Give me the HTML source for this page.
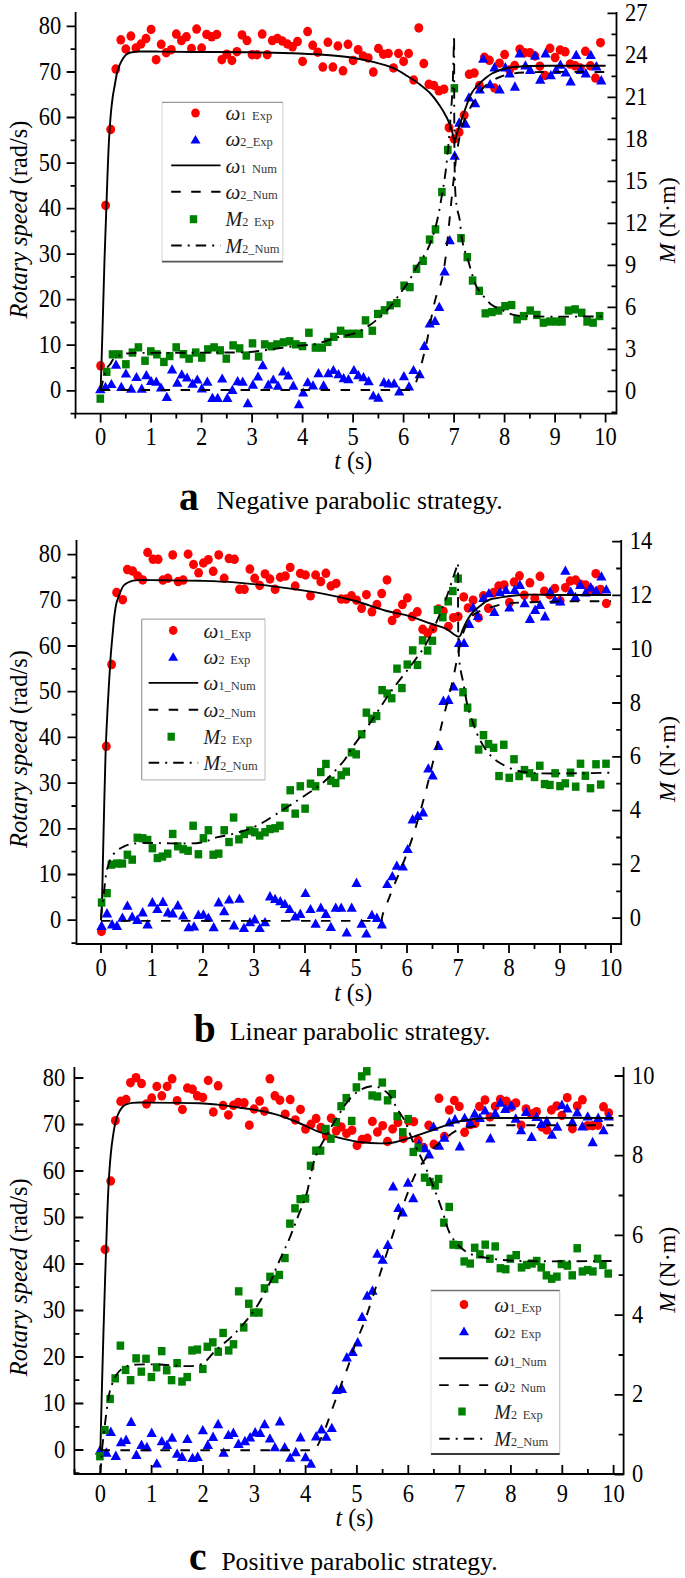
<!DOCTYPE html>
<html><head><meta charset="utf-8"><title>Figure</title>
<style>
html,body{margin:0;padding:0;background:#fff;width:685px;height:1578px;overflow:hidden;}
svg{display:block;}
text{font-family:"Liberation Serif",serif;fill:#000;}
</style></head><body>
<svg width="685" height="1578" viewBox="0 0 685 1578">
<rect width="685" height="1578" fill="#fff"/>
<g fill="#ff0000"><ellipse cx="100.6" cy="365.8" rx="4.45" ry="4.75"/><ellipse cx="105.6" cy="205.4" rx="4.45" ry="4.75"/><ellipse cx="110.7" cy="129.4" rx="4.45" ry="4.75"/><ellipse cx="115.8" cy="69.1" rx="4.45" ry="4.75"/><ellipse cx="120.8" cy="39.8" rx="4.45" ry="4.75"/><ellipse cx="125.8" cy="49" rx="4.45" ry="4.75"/><ellipse cx="130.9" cy="36.1" rx="4.45" ry="4.75"/><ellipse cx="135.9" cy="48" rx="4.45" ry="4.75"/><ellipse cx="141" cy="44" rx="4.45" ry="4.75"/><ellipse cx="146" cy="38.6" rx="4.45" ry="4.75"/><ellipse cx="151.1" cy="29.4" rx="4.45" ry="4.75"/><ellipse cx="156.1" cy="59.7" rx="4.45" ry="4.75"/><ellipse cx="161.2" cy="44.3" rx="4.45" ry="4.75"/><ellipse cx="166.2" cy="52.7" rx="4.45" ry="4.75"/><ellipse cx="171.3" cy="49.7" rx="4.45" ry="4.75"/><ellipse cx="176.3" cy="34.1" rx="4.45" ry="4.75"/><ellipse cx="181.4" cy="40.6" rx="4.45" ry="4.75"/><ellipse cx="186.4" cy="36.8" rx="4.45" ry="4.75"/><ellipse cx="191.5" cy="48.5" rx="4.45" ry="4.75"/><ellipse cx="196.6" cy="29.1" rx="4.45" ry="4.75"/><ellipse cx="201.6" cy="48" rx="4.45" ry="4.75"/><ellipse cx="206.6" cy="34.4" rx="4.45" ry="4.75"/><ellipse cx="211.7" cy="36.8" rx="4.45" ry="4.75"/><ellipse cx="216.8" cy="34.4" rx="4.45" ry="4.75"/><ellipse cx="221.8" cy="59.7" rx="4.45" ry="4.75"/><ellipse cx="226.8" cy="54.2" rx="4.45" ry="4.75"/><ellipse cx="231.9" cy="60.4" rx="4.45" ry="4.75"/><ellipse cx="236.9" cy="51.7" rx="4.45" ry="4.75"/><ellipse cx="242" cy="34.9" rx="4.45" ry="4.75"/><ellipse cx="247" cy="40.6" rx="4.45" ry="4.75"/><ellipse cx="252.1" cy="54.7" rx="4.45" ry="4.75"/><ellipse cx="257.1" cy="54.7" rx="4.45" ry="4.75"/><ellipse cx="262.2" cy="34.1" rx="4.45" ry="4.75"/><ellipse cx="267.2" cy="54.7" rx="4.45" ry="4.75"/><ellipse cx="272.3" cy="40.6" rx="4.45" ry="4.75"/><ellipse cx="277.4" cy="38.6" rx="4.45" ry="4.75"/><ellipse cx="282.4" cy="41.1" rx="4.45" ry="4.75"/><ellipse cx="287.4" cy="44" rx="4.45" ry="4.75"/><ellipse cx="292.5" cy="46.8" rx="4.45" ry="4.75"/><ellipse cx="297.5" cy="41.6" rx="4.45" ry="4.75"/><ellipse cx="302.6" cy="61.4" rx="4.45" ry="4.75"/><ellipse cx="307.6" cy="31.6" rx="4.45" ry="4.75"/><ellipse cx="312.7" cy="45.3" rx="4.45" ry="4.75"/><ellipse cx="317.8" cy="52.2" rx="4.45" ry="4.75"/><ellipse cx="322.8" cy="67.1" rx="4.45" ry="4.75"/><ellipse cx="327.9" cy="42.3" rx="4.45" ry="4.75"/><ellipse cx="332.9" cy="67.1" rx="4.45" ry="4.75"/><ellipse cx="337.9" cy="46" rx="4.45" ry="4.75"/><ellipse cx="343" cy="70.8" rx="4.45" ry="4.75"/><ellipse cx="348" cy="44.3" rx="4.45" ry="4.75"/><ellipse cx="353.1" cy="60.4" rx="4.45" ry="4.75"/><ellipse cx="358.1" cy="49.7" rx="4.45" ry="4.75"/><ellipse cx="363.2" cy="56" rx="4.45" ry="4.75"/><ellipse cx="368.2" cy="57.9" rx="4.45" ry="4.75"/><ellipse cx="373.3" cy="72.1" rx="4.45" ry="4.75"/><ellipse cx="378.4" cy="48.5" rx="4.45" ry="4.75"/><ellipse cx="383.4" cy="54.2" rx="4.45" ry="4.75"/><ellipse cx="388.4" cy="53.5" rx="4.45" ry="4.75"/><ellipse cx="393.5" cy="67.9" rx="4.45" ry="4.75"/><ellipse cx="398.5" cy="53.5" rx="4.45" ry="4.75"/><ellipse cx="403.6" cy="61.4" rx="4.45" ry="4.75"/><ellipse cx="408.6" cy="53.5" rx="4.45" ry="4.75"/><ellipse cx="413.7" cy="80" rx="4.45" ry="4.75"/><ellipse cx="418.8" cy="27.9" rx="4.45" ry="4.75"/><ellipse cx="423.8" cy="63.6" rx="4.45" ry="4.75"/><ellipse cx="428.9" cy="84.3" rx="4.45" ry="4.75"/><ellipse cx="433.9" cy="85.5" rx="4.45" ry="4.75"/><ellipse cx="438.9" cy="90.8" rx="4.45" ry="4.75"/><ellipse cx="444" cy="89.2" rx="4.45" ry="4.75"/><ellipse cx="449" cy="127.7" rx="4.45" ry="4.75"/><ellipse cx="454.1" cy="139" rx="4.45" ry="4.75"/><ellipse cx="459.1" cy="132.2" rx="4.45" ry="4.75"/><ellipse cx="464.2" cy="115.2" rx="4.45" ry="4.75"/><ellipse cx="469.2" cy="74.3" rx="4.45" ry="4.75"/><ellipse cx="474.3" cy="73.1" rx="4.45" ry="4.75"/><ellipse cx="479.4" cy="85.6" rx="4.45" ry="4.75"/><ellipse cx="484.4" cy="57.3" rx="4.45" ry="4.75"/><ellipse cx="489.4" cy="60.3" rx="4.45" ry="4.75"/><ellipse cx="494.5" cy="88" rx="4.45" ry="4.75"/><ellipse cx="499.5" cy="63.2" rx="4.45" ry="4.75"/><ellipse cx="504.6" cy="54.6" rx="4.45" ry="4.75"/><ellipse cx="509.6" cy="70" rx="4.45" ry="4.75"/><ellipse cx="514.7" cy="65.6" rx="4.45" ry="4.75"/><ellipse cx="519.8" cy="49.2" rx="4.45" ry="4.75"/><ellipse cx="524.8" cy="52.7" rx="4.45" ry="4.75"/><ellipse cx="529.9" cy="52.7" rx="4.45" ry="4.75"/><ellipse cx="534.9" cy="56" rx="4.45" ry="4.75"/><ellipse cx="539.9" cy="66.2" rx="4.45" ry="4.75"/><ellipse cx="545" cy="75.4" rx="4.45" ry="4.75"/><ellipse cx="550" cy="48.3" rx="4.45" ry="4.75"/><ellipse cx="555.1" cy="57.6" rx="4.45" ry="4.75"/><ellipse cx="560.1" cy="50" rx="4.45" ry="4.75"/><ellipse cx="565.2" cy="51.8" rx="4.45" ry="4.75"/><ellipse cx="570.2" cy="64.1" rx="4.45" ry="4.75"/><ellipse cx="575.3" cy="65.8" rx="4.45" ry="4.75"/><ellipse cx="580.4" cy="68" rx="4.45" ry="4.75"/><ellipse cx="585.4" cy="51.3" rx="4.45" ry="4.75"/><ellipse cx="590.4" cy="65.8" rx="4.45" ry="4.75"/><ellipse cx="595.5" cy="78.1" rx="4.45" ry="4.75"/><ellipse cx="600.5" cy="42.7" rx="4.45" ry="4.75"/></g>
<g fill="#0000ff"><path d="M100.3 384.1L105.5 393.3L95.1 393.3Z"/><path d="M105.5 381.8L110.7 391L100.3 391Z"/><path d="M111.4 378.9L116.6 388.1L106.2 388.1Z"/><path d="M116 359.6L121.2 368.8L110.8 368.8Z"/><path d="M121.3 381.8L126.5 391L116.1 391Z"/><path d="M125.9 368.4L131.1 377.6L120.8 377.6Z"/><path d="M131.2 383.5L136.3 392.8L126 392.8Z"/><path d="M136.5 371.9L141.7 381.1L131.3 381.1Z"/><path d="M141.7 383.5L146.8 392.8L136.5 392.8Z"/><path d="M146.4 370.1L151.6 379.3L141.2 379.3Z"/><path d="M151.1 375.9L156.2 385.1L145.9 385.1Z"/><path d="M156.3 376.5L161.5 385.8L151.2 385.8Z"/><path d="M161 382.4L166.2 391.6L155.8 391.6Z"/><path d="M166.8 391.7L172 400.9L161.7 400.9Z"/><path d="M172.1 364.2L177.2 373.5L166.9 373.5Z"/><path d="M177.3 377.5L182.5 386.8L172.2 386.8Z"/><path d="M181.8 369.2L187 378.5L176.7 378.5Z"/><path d="M187.1 372.4L192.2 381.6L181.9 381.6Z"/><path d="M192.6 378.5L197.8 387.8L187.4 387.8Z"/><path d="M197.3 374.4L202.5 383.6L192.2 383.6Z"/><path d="M201.8 383.2L207 392.4L196.7 392.4Z"/><path d="M207.3 376.5L212.5 385.8L202.2 385.8Z"/><path d="M212.4 392.8L217.6 402L207.2 402Z"/><path d="M217.7 392.8L222.8 402L212.5 402Z"/><path d="M222.2 373.4L227.3 382.6L217 382.6Z"/><path d="M227.3 392.8L232.5 402L222.2 402Z"/><path d="M232.4 384.7L237.6 393.9L227.2 393.9Z"/><path d="M237.6 376.1L242.8 385.3L232.4 385.3Z"/><path d="M242.7 376.5L247.8 385.8L237.5 385.8Z"/><path d="M247.8 398L253 407.2L242.7 407.2Z"/><path d="M252.9 379.6L258.1 388.8L247.8 388.8Z"/><path d="M258 371.4L263.1 380.6L252.8 380.6Z"/><path d="M262.7 360.1L267.8 369.3L257.6 369.3Z"/><path d="M268.2 379.6L273.3 388.8L263.1 388.8Z"/><path d="M273.3 374.4L278.4 383.6L268.2 383.6Z"/><path d="M278 380.6L283.1 389.8L272.9 389.8Z"/><path d="M283.1 366.2L288.2 375.5L278 375.5Z"/><path d="M288.2 370.4L293.3 379.6L283.1 379.6Z"/><path d="M293.3 380.6L298.4 389.8L288.2 389.8Z"/><path d="M298.9 399L304 408.2L293.8 408.2Z"/><path d="M303.2 387.4L308.3 396.6L298.1 396.6Z"/><path d="M307.7 377.1L312.8 386.3L302.6 386.3Z"/><path d="M313 380.2L318.1 389.4L307.9 389.4Z"/><path d="M318.5 368L323.6 377.2L313.4 377.2Z"/><path d="M323.6 380.2L328.8 389.4L318.5 389.4Z"/><path d="M328.3 368L333.4 377.2L323.2 377.2Z"/><path d="M333.4 364.9L338.5 374.1L328.2 374.1Z"/><path d="M338.5 369L343.6 378.2L333.4 378.2Z"/><path d="M343.6 373.1L348.8 382.3L338.5 382.3Z"/><path d="M348.5 374.1L353.6 383.3L343.4 383.3Z"/><path d="M353.9 364.9L359 374.1L348.8 374.1Z"/><path d="M358.4 370L363.5 379.2L353.2 379.2Z"/><path d="M363.5 372L368.6 381.2L358.4 381.2Z"/><path d="M368.6 376.1L373.8 385.3L363.5 385.3Z"/><path d="M373.3 390.4L378.4 399.6L368.2 399.6Z"/><path d="M378.4 392.5L383.5 401.8L373.2 401.8Z"/><path d="M383.9 377.1L389 386.3L378.8 386.3Z"/><path d="M388.6 378.2L393.8 387.4L383.5 387.4Z"/><path d="M394.1 378.2L399.2 387.4L389 387.4Z"/><path d="M399.2 386.2L404.3 395.5L394.1 395.5Z"/><path d="M403.9 371L409 380.2L398.8 380.2Z"/><path d="M409 381.2L414.1 390.4L403.9 390.4Z"/><path d="M413.5 364.9L418.6 374.1L408.4 374.1Z"/><path d="M419.7 369L424.8 378.2L414.6 378.2Z"/><path d="M424.4 340.8L429.5 350L419.2 350Z"/><path d="M429.7 318.4L434.8 327.6L424.6 327.6Z"/><path d="M435 315.8L440.1 325L429.9 325Z"/><path d="M439.3 301.8L444.4 311L434.2 311Z"/><path d="M444.6 266.2L449.8 275.5L439.5 275.5Z"/><path d="M449.8 234.9L454.9 244.2L444.7 244.2Z"/><path d="M454.7 150.3L459.8 159.7L449.6 159.7Z"/><path d="M459.2 117.3L464.3 126.7L454.1 126.7Z"/><path d="M465.5 118.4L470.6 127.8L460.4 127.8Z"/><path d="M468.9 92.2L474 101.6L463.8 101.6Z"/><path d="M475.2 97.9L480.3 107.2L470.1 107.2Z"/><path d="M479.8 84.2L484.9 93.6L474.7 93.6Z"/><path d="M483.2 53.5L488.3 62.8L478.1 62.8Z"/><path d="M490.1 78.9L495.2 88.2L485 88.2Z"/><path d="M494.5 62.1L499.6 71.5L489.4 71.5Z"/><path d="M499.6 84L504.8 93.4L494.5 93.4Z"/><path d="M505.3 62.1L510.4 71.4L500.2 71.4Z"/><path d="M509.6 68.1L514.8 77.5L504.5 77.5Z"/><path d="M514.9 81.3L520 90.7L509.8 90.7Z"/><path d="M519.6 48.1L524.8 57.4L514.5 57.4Z"/><path d="M525.4 60.3L530.5 69.6L520.2 69.6Z"/><path d="M530.1 64.6L535.2 74L525 74Z"/><path d="M535 50.4L540.1 59.6L529.9 59.6Z"/><path d="M540.3 74.3L545.4 83.7L535.1 83.7Z"/><path d="M545.5 48.1L550.6 57.4L540.4 57.4Z"/><path d="M550.8 69.9L555.9 79.2L545.6 79.2Z"/><path d="M556.1 64.6L561.2 74L551 74Z"/><path d="M560.4 59.4L565.5 68.8L555.2 68.8Z"/><path d="M565.7 67.2L570.9 76.6L560.6 76.6Z"/><path d="M570.6 76L575.8 85.4L565.5 85.4Z"/><path d="M576.2 49.8L581.4 59L571.1 59Z"/><path d="M580.6 64.6L585.8 74L575.5 74Z"/><path d="M585.8 68.1L590.9 77.5L580.6 77.5Z"/><path d="M590.8 49.8L595.9 59L585.6 59Z"/><path d="M596.4 61.1L601.5 70.5L591.2 70.5Z"/><path d="M601.3 75.1L606.4 84.5L596.1 84.5Z"/></g>
<path d="M100.6 390.8 C100.9 380.7 101.9 351 102.5 330 C103.2 307.5 103.8 280.4 104.5 260 C105 244.2 105.5 232.1 106 218 C106.5 203.8 107 188.6 107.5 175 C108 162.7 108.4 151 109 140 C109.6 130.1 110.2 120.2 111 112 C111.6 105.6 112.3 99.9 113 95 C113.6 91.2 114.2 88.5 114.8 85 C115.5 81.2 116.1 76.6 117 73 C117.8 69.9 118.7 67.1 119.8 64.6 C120.8 62.4 121.9 60.2 123 58.5 C124 57 124.9 55.6 126 54.7 C126.9 53.9 128 53.4 129 53 C130 52.6 130.9 52.4 132.2 52.2 C134.1 51.9 136.5 51.6 139.6 51.5 C144.7 51.3 152.1 51.5 160 51.6 C171.1 51.7 185.9 51.9 200 52 C215.7 52.1 233.4 52 250 52.3 C266.6 52.6 283.1 52.7 299.6 53.5 C316.2 54.3 335.6 55.3 349.3 57.2 C359 58.5 366.3 60.2 374.1 62.2 C381.1 64 388 65.8 394 68.4 C399.4 70.8 404.3 74.2 408.8 77 C412.8 79.5 416.4 81.8 420 84.5 C423.5 87.2 426.8 89.7 430 93 C433.5 96.7 437.1 101.7 440 106 C442.7 110 445.2 114.4 447 118 C448.4 120.7 449.2 122.9 450.1 125.4 C451 127.9 451.8 130.3 452.5 133 C453.3 136 453.7 142.5 454.4 142.5 C455 142.5 455.7 137.5 456.5 135 C457.3 132.4 458.1 129.9 459 127 C460.1 123.7 461.4 119.9 462.6 116.3 C463.9 112.7 465.2 109.1 466.5 105.5 C467.8 102 468.9 98.2 470.6 95 C472.1 92.1 473.8 89.6 476 87 C478.5 84.1 482.1 80.9 485 78.5 C487.4 76.5 489.5 74.9 492 73.5 C494.5 72.1 497.1 71 500 70 C503.1 68.9 506.1 68.1 510 67.5 C515.5 66.6 522.7 66.3 530 66 C539 65.6 549 65.8 560 65.8 C573.6 65.8 598 65.8 605.6 65.8" fill="none" stroke="#000" stroke-width="1.9" stroke-linejoin="round"/>
<path d="M100.6 390 L411.5 390 C412 389.3 413.6 387.7 414.5 386 C415.7 383.8 416.7 380.4 417.6 377.7 C418.5 375.1 419.2 372.8 420 370 C420.9 366.7 421.8 362.9 422.7 359.3 C423.6 355.6 424.6 351.8 425.5 348 C426.3 344.3 427 340.8 427.8 336.8 C428.7 332.2 429.6 326.7 430.5 322 C431.3 317.8 432.1 314.1 433 310 C433.9 305.7 434.7 301.3 436 297 C437.3 292.8 439.2 289.3 440.6 284.5 C442.4 278.1 443.8 269.7 445 261.8 C446.3 253.3 447.1 243.8 448 235 C448.9 226.5 449.7 217.9 450.5 210 C451.2 203 451.8 196.5 452.5 190 C453.2 183.8 453.8 177.9 454.5 172 C455.2 166.3 455.7 160.6 456.5 155 C457.3 149.6 458.1 144.2 459.2 139 C460.3 133.9 461.3 128.9 463 124 C464.7 119 467 114.3 469.5 109.4 C472.2 104.1 475 98.1 478.6 93.4 C481.9 89 486.1 84.8 490 82 C493.3 79.7 496.6 78.3 500 77 C503.3 75.7 506.3 74.7 510 74 C514.5 73.1 519.6 72.8 525 72.5 C531.2 72.1 536.5 72.1 545 72 C559.7 71.8 595.5 72 605.6 72" fill="none" stroke="#000" stroke-width="1.9" stroke-dasharray="9.5 10.5"/>
<g fill="#008000"><rect x="96.5" y="394.5" width="7.6" height="8.3"/><rect x="102.9" y="367.7" width="7.6" height="8.3"/><rect x="108.7" y="350.2" width="7.6" height="8.3"/><rect x="115.1" y="350.2" width="7.6" height="8.3"/><rect x="122.1" y="360.1" width="7.6" height="8.3"/><rect x="128.6" y="348.4" width="7.6" height="8.3"/><rect x="134.6" y="343.2" width="7.6" height="8.3"/><rect x="141.2" y="356.6" width="7.6" height="8.3"/><rect x="147" y="347.2" width="7.6" height="8.3"/><rect x="153.1" y="350.2" width="7.6" height="8.3"/><rect x="160.1" y="357.8" width="7.6" height="8.3"/><rect x="165.9" y="351.9" width="7.6" height="8.3"/><rect x="172.4" y="343.2" width="7.6" height="8.3"/><rect x="179.6" y="350" width="7.6" height="8.3"/><rect x="185.3" y="354.5" width="7.6" height="8.3"/><rect x="191.9" y="348.4" width="7.6" height="8.3"/><rect x="198" y="353.5" width="7.6" height="8.3"/><rect x="204.1" y="345.2" width="7.6" height="8.3"/><rect x="210.3" y="343.2" width="7.6" height="8.3"/><rect x="216.4" y="346.2" width="7.6" height="8.3"/><rect x="222.5" y="354.5" width="7.6" height="8.3"/><rect x="229.3" y="341.2" width="7.6" height="8.3"/><rect x="235.8" y="344.2" width="7.6" height="8.3"/><rect x="242.5" y="351.4" width="7.6" height="8.3"/><rect x="248.7" y="339.2" width="7.6" height="8.3"/><rect x="254.8" y="352.5" width="7.6" height="8.3"/><rect x="260.9" y="340.2" width="7.6" height="8.3"/><rect x="267.5" y="342.2" width="7.6" height="8.3"/><rect x="273.2" y="340.2" width="7.6" height="8.3"/><rect x="279.7" y="338.2" width="7.6" height="8.3"/><rect x="285.9" y="337.1" width="7.6" height="8.3"/><rect x="292" y="340.2" width="7.6" height="8.3"/><rect x="298.7" y="342" width="7.6" height="8.3"/><rect x="305.1" y="328.6" width="7.6" height="8.3"/><rect x="311.6" y="343.5" width="7.6" height="8.3"/><rect x="318.4" y="343.5" width="7.6" height="8.3"/><rect x="323.9" y="337.8" width="7.6" height="8.3"/><rect x="330" y="332.7" width="7.6" height="8.3"/><rect x="336.8" y="326.6" width="7.6" height="8.3"/><rect x="343.3" y="329.6" width="7.6" height="8.3"/><rect x="349.4" y="329.6" width="7.6" height="8.3"/><rect x="355.6" y="329.6" width="7.6" height="8.3"/><rect x="361.7" y="316.2" width="7.6" height="8.3"/><rect x="368.5" y="326.6" width="7.6" height="8.3"/><rect x="374" y="309.8" width="7.6" height="8.3"/><rect x="380.7" y="306.1" width="7.6" height="8.3"/><rect x="386.4" y="301.2" width="7.6" height="8.3"/><rect x="393" y="299" width="7.6" height="8.3"/><rect x="400.3" y="281.5" width="7.6" height="8.3"/><rect x="406.1" y="283" width="7.6" height="8.3"/><rect x="412.7" y="264.7" width="7.6" height="8.3"/><rect x="419.3" y="256.7" width="7.6" height="8.3"/><rect x="425.8" y="235.4" width="7.6" height="8.3"/><rect x="431.7" y="225.2" width="7.6" height="8.3"/><rect x="438.1" y="187.9" width="7.6" height="8.3"/><rect x="444" y="145.8" width="7.6" height="8.3"/><rect x="450.6" y="84.1" width="7.6" height="8.3"/><rect x="457.2" y="234" width="7.6" height="8.3"/><rect x="463.5" y="253" width="7.6" height="8.3"/><rect x="468.8" y="276.4" width="7.6" height="8.3"/><rect x="475.4" y="286.7" width="7.6" height="8.3"/><rect x="481.5" y="309.2" width="7.6" height="8.3"/><rect x="488.1" y="307.9" width="7.6" height="8.3"/><rect x="494.7" y="306.4" width="7.6" height="8.3"/><rect x="501.2" y="302" width="7.6" height="8.3"/><rect x="507.8" y="300.9" width="7.6" height="8.3"/><rect x="513.3" y="315.2" width="7.6" height="8.3"/><rect x="519.8" y="311.9" width="7.6" height="8.3"/><rect x="526.4" y="306.4" width="7.6" height="8.3"/><rect x="533" y="310.8" width="7.6" height="8.3"/><rect x="539.6" y="318.5" width="7.6" height="8.3"/><rect x="546.1" y="317.4" width="7.6" height="8.3"/><rect x="552.7" y="317.4" width="7.6" height="8.3"/><rect x="558.2" y="317.4" width="7.6" height="8.3"/><rect x="564.7" y="306.4" width="7.6" height="8.3"/><rect x="571.3" y="305.2" width="7.6" height="8.3"/><rect x="577.9" y="308.6" width="7.6" height="8.3"/><rect x="583.3" y="317.4" width="7.6" height="8.3"/><rect x="589.3" y="318.5" width="7.6" height="8.3"/><rect x="595.8" y="311.9" width="7.6" height="8.3"/></g>
<path d="M100.6 391 C100.8 390 101.5 387.1 102 385 C102.6 382.5 103.1 379.6 103.8 377 C104.5 374.6 105.2 371.9 106 370 C106.6 368.6 107.2 367.5 108 366.5 C108.7 365.6 109.5 365.1 110.2 364.2 C111.2 362.9 111.8 360.8 113.1 359.5 C114.5 358.1 116.4 356.9 118.4 356 C120.5 355 122.8 354.2 125.4 353.7 C128.3 353.1 130.7 353.2 135 353 C143.8 352.7 161.3 352.9 175 352.8 C189.6 352.7 206.5 352.7 220 352.5 C231 352.4 241 352.6 250 352 C257.4 351.5 263 350.4 270 349.5 C277.9 348.5 287.1 346.9 295 346 C302.1 345.2 308.7 345.3 315.4 344 C322.3 342.6 329.1 339.7 335.9 337.8 C342.7 335.9 350.3 335.1 356.3 332.7 C361.7 330.5 366.1 327.6 370.6 324.5 C375 321.5 379.4 317.5 382.9 314.3 C385.7 311.7 387.6 309.8 390 307 C392.9 303.6 395.9 299.3 399 295.1 C402.3 290.5 406 285.6 409.2 280.5 C412.4 275.4 415 269.5 418 264.5 C420.8 259.8 424.2 256.3 426.7 251.3 C429.6 245.7 432 238.6 434 232.3 C435.9 226.4 437.2 220.5 438.4 214.8 C439.6 209.4 440.4 204.1 441.3 198.8 C442.2 193.5 443.2 188.2 444 183 C444.8 177.8 445.4 173.5 446.1 167.6 C447.1 159.5 448.5 143.8 449 139 L452.6 90 L454.1 35.8 C454.3 61.8 453.9 166.8 455.3 192 C455.8 200.1 456.2 203.2 457 208 C457.7 212.1 458.9 215 459.6 219.2 C460.5 224.7 460.8 232.6 461.8 238.2 C462.6 242.6 463.4 246.4 464.5 250 C465.4 253.1 466.5 255.3 467.6 258.6 C469 263 470.5 269.2 472 274 C473.4 278.4 474.7 283 476.4 286.4 C477.8 289.1 479.4 290.9 481 293 C482.6 295.1 484.2 297 486 299 C487.8 301 489.5 303.2 491.9 305 C494.8 307.1 499.1 308.8 502.8 310.5 C506.4 312.1 509.4 313.9 513.8 314.9 C519.8 316.3 526.3 316.1 535.7 316.4 C552.4 317 594 316.4 605.6 316.4" fill="none" stroke="#000" stroke-width="1.9" stroke-dasharray="10.5 6 2 6"/>
<g stroke="#000" stroke-width="1.8" fill="none" stroke-linecap="square">
<path d="M75.6 13V413.6H616.5V13"/>
<path d="M75.3 413.6V418.6M100.6 413.6V422.6M125.8 413.6V418.6M151.1 413.6V422.6M176.3 413.6V418.6M201.6 413.6V422.6M226.8 413.6V418.6M252.1 413.6V422.6M277.4 413.6V418.6M302.6 413.6V422.6M327.9 413.6V418.6M353.1 413.6V422.6M378.4 413.6V418.6M403.6 413.6V422.6M428.9 413.6V418.6M454.1 413.6V422.6M479.4 413.6V418.6M504.6 413.6V422.6M529.9 413.6V418.6M555.1 413.6V422.6M580.4 413.6V418.6M605.6 413.6V422.6M75.6 413.6H70.6M75.6 390.8H66.6M75.6 368H70.6M75.6 345.2H66.6M75.6 322.5H70.6M75.6 299.7H66.6M75.6 276.9H70.6M75.6 254.2H66.6M75.6 231.4H70.6M75.6 208.6H66.6M75.6 185.8H70.6M75.6 163.1H66.6M75.6 140.3H70.6M75.6 117.5H66.6M75.6 94.7H70.6M75.6 72H66.6M75.6 49.2H70.6M75.6 26.4H66.6M616.5 412.3H611.5M616.5 391.3H607.5M616.5 370.3H611.5M616.5 349.3H607.5M616.5 328.3H611.5M616.5 307.3H607.5M616.5 286.3H611.5M616.5 265.3H607.5M616.5 244.3H611.5M616.5 223.3H607.5M616.5 202.3H611.5M616.5 181.3H607.5M616.5 160.3H611.5M616.5 139.3H607.5M616.5 118.3H611.5M616.5 97.3H607.5M616.5 76.3H611.5M616.5 55.3H607.5M616.5 34.3H611.5M616.5 13.3H607.5" stroke-linecap="butt"/>
</g>
<g font-size="22.5"><text transform="translate(61.2 398.4) scale(1 1.12)" text-anchor="end">0</text><text transform="translate(61.2 352.9) scale(1 1.12)" text-anchor="end">10</text><text transform="translate(61.2 307.3) scale(1 1.12)" text-anchor="end">20</text><text transform="translate(61.2 261.8) scale(1 1.12)" text-anchor="end">30</text><text transform="translate(61.2 216.2) scale(1 1.12)" text-anchor="end">40</text><text transform="translate(61.2 170.7) scale(1 1.12)" text-anchor="end">50</text><text transform="translate(61.2 125.1) scale(1 1.12)" text-anchor="end">60</text><text transform="translate(61.2 79.6) scale(1 1.12)" text-anchor="end">70</text><text transform="translate(61.2 34) scale(1 1.12)" text-anchor="end">80</text><text transform="translate(625 398.9) scale(1 1.12)">0</text><text transform="translate(625 356.9) scale(1 1.12)">3</text><text transform="translate(625 314.9) scale(1 1.12)">6</text><text transform="translate(625 272.9) scale(1 1.12)">9</text><text transform="translate(625 230.9) scale(1 1.12)">12</text><text transform="translate(625 188.9) scale(1 1.12)">15</text><text transform="translate(625 146.9) scale(1 1.12)">18</text><text transform="translate(625 104.9) scale(1 1.12)">21</text><text transform="translate(625 62.9) scale(1 1.12)">24</text><text transform="translate(625 20.9) scale(1 1.12)">27</text><text transform="translate(100.6 445.2) scale(1 1.12)" text-anchor="middle">0</text><text transform="translate(151.1 445.2) scale(1 1.12)" text-anchor="middle">1</text><text transform="translate(201.6 445.2) scale(1 1.12)" text-anchor="middle">2</text><text transform="translate(252.1 445.2) scale(1 1.12)" text-anchor="middle">3</text><text transform="translate(302.6 445.2) scale(1 1.12)" text-anchor="middle">4</text><text transform="translate(353.1 445.2) scale(1 1.12)" text-anchor="middle">5</text><text transform="translate(403.6 445.2) scale(1 1.12)" text-anchor="middle">6</text><text transform="translate(454.1 445.2) scale(1 1.12)" text-anchor="middle">7</text><text transform="translate(504.6 445.2) scale(1 1.12)" text-anchor="middle">8</text><text transform="translate(555.1 445.2) scale(1 1.12)" text-anchor="middle">9</text><text transform="translate(605.6 445.2) scale(1 1.12)" text-anchor="middle">10</text></g>
<text transform="translate(334.3 469) scale(1 1.08)" font-size="24"><tspan font-style="italic">t</tspan> (s)</text>
<text transform="translate(27.4 219.5) rotate(-90)" font-size="24.4" text-anchor="middle"><tspan font-style="italic">Rotary speed</tspan> (rad/s)</text>
<text transform="translate(675.3 220.3) rotate(-90)" font-size="24" text-anchor="middle"><tspan font-style="italic">M</tspan> (N·m)</text>
<text x="179" y="509.9" font-size="39.5" font-weight="bold">a</text>
<text x="216.6" y="509.3" font-size="25.6">Negative parabolic strategy.</text>
<rect x="162" y="102.3" width="120.8" height="159.4" fill="#fff" stroke="none"/>
<path d="M162 102.3V261.7" stroke="#dcdcdc" stroke-width="1.2"/>
<path d="M282.8 102.3V261.7" stroke="#d8d8d8" stroke-width="1.2"/>
<path d="M162 102.3H282.8" stroke="#9a9a9a" stroke-width="1.3"/>
<path d="M162 261.7H282.8" stroke="#555" stroke-width="1.8"/>
<g fill="#ff0000"><ellipse cx="195.5" cy="113" rx="4.3" ry="4.5"/></g>
<g fill="#0000ff"><path d="M195.5 134.9L200.5 143.5L190.5 143.5Z"/></g>
<path d="M171.2 165.4H220.5" stroke="#000" stroke-width="1.9"/>
<path d="M171.2 191.8H220.5" stroke="#000" stroke-width="1.9" stroke-dasharray="9.5 10.5"/>
<g fill="#008000"><rect x="189.8" y="215.2" width="7.4" height="8"/></g>
<path d="M171.2 245.5H220.5" stroke="#000" stroke-width="1.9" stroke-dasharray="10.5 6 2 6"/>
<text x="225.5" y="120.2"><tspan font-size="21" font-style="italic" fill="#1a1a1a">ω</tspan><tspan font-size="12.2" fill="#333">1</tspan><tspan font-size="12.5" fill="#3a3a3a" dx="2.5"> Exp</tspan></text>
<text x="225.5" y="146.4"><tspan font-size="21" font-style="italic" fill="#1a1a1a">ω</tspan><tspan font-size="12.2" fill="#333">2</tspan><tspan font-size="12.5" fill="#3a3a3a">_Exp</tspan></text>
<text x="225.5" y="172.6"><tspan font-size="21" font-style="italic" fill="#1a1a1a">ω</tspan><tspan font-size="12.2" fill="#333">1</tspan><tspan font-size="12.5" fill="#3a3a3a" dx="2.5"> Num</tspan></text>
<text x="225.5" y="199"><tspan font-size="21" font-style="italic" fill="#1a1a1a">ω</tspan><tspan font-size="12.2" fill="#333">2</tspan><tspan font-size="12.5" fill="#3a3a3a">_Num</tspan></text>
<text x="225.5" y="226.4"><tspan font-size="20" font-style="italic" fill="#1a1a1a">M</tspan><tspan font-size="12.2" fill="#333">2</tspan><tspan font-size="12.5" fill="#3a3a3a" dx="2.5"> Exp</tspan></text>
<text x="225.5" y="252.7"><tspan font-size="20" font-style="italic" fill="#1a1a1a">M</tspan><tspan font-size="12.2" fill="#333">2</tspan><tspan font-size="12.5" fill="#3a3a3a">_Num</tspan></text>
<g fill="#ff0000"><ellipse cx="101.5" cy="931.4" rx="4.45" ry="4.75"/><ellipse cx="106.3" cy="746.3" rx="4.45" ry="4.75"/><ellipse cx="111.6" cy="664.6" rx="4.45" ry="4.75"/><ellipse cx="116.6" cy="592.6" rx="4.45" ry="4.75"/><ellipse cx="122.7" cy="599.7" rx="4.45" ry="4.75"/><ellipse cx="127.4" cy="569.6" rx="4.45" ry="4.75"/><ellipse cx="132.7" cy="571.1" rx="4.45" ry="4.75"/><ellipse cx="137.7" cy="576.1" rx="4.45" ry="4.75"/><ellipse cx="142.7" cy="579.9" rx="4.45" ry="4.75"/><ellipse cx="147.6" cy="552.5" rx="4.45" ry="4.75"/><ellipse cx="153" cy="559.3" rx="4.45" ry="4.75"/><ellipse cx="158.1" cy="559.3" rx="4.45" ry="4.75"/><ellipse cx="162.9" cy="580.1" rx="4.45" ry="4.75"/><ellipse cx="167.9" cy="578.3" rx="4.45" ry="4.75"/><ellipse cx="172.7" cy="554.9" rx="4.45" ry="4.75"/><ellipse cx="178.2" cy="581.6" rx="4.45" ry="4.75"/><ellipse cx="183.2" cy="580.1" rx="4.45" ry="4.75"/><ellipse cx="188.1" cy="554.2" rx="4.45" ry="4.75"/><ellipse cx="193.5" cy="564.5" rx="4.45" ry="4.75"/><ellipse cx="198.6" cy="572.8" rx="4.45" ry="4.75"/><ellipse cx="203.4" cy="563" rx="4.45" ry="4.75"/><ellipse cx="208.4" cy="559.7" rx="4.45" ry="4.75"/><ellipse cx="213.2" cy="571.3" rx="4.45" ry="4.75"/><ellipse cx="218.7" cy="554.9" rx="4.45" ry="4.75"/><ellipse cx="224.2" cy="578.3" rx="4.45" ry="4.75"/><ellipse cx="229" cy="558.6" rx="4.45" ry="4.75"/><ellipse cx="234.5" cy="559.3" rx="4.45" ry="4.75"/><ellipse cx="239.5" cy="589.3" rx="4.45" ry="4.75"/><ellipse cx="244.4" cy="589.3" rx="4.45" ry="4.75"/><ellipse cx="249.9" cy="569.1" rx="4.45" ry="4.75"/><ellipse cx="254.7" cy="578.3" rx="4.45" ry="4.75"/><ellipse cx="259.7" cy="585.5" rx="4.45" ry="4.75"/><ellipse cx="265" cy="573.9" rx="4.45" ry="4.75"/><ellipse cx="270" cy="579" rx="4.45" ry="4.75"/><ellipse cx="275.1" cy="589.3" rx="4.45" ry="4.75"/><ellipse cx="280.3" cy="577.2" rx="4.45" ry="4.75"/><ellipse cx="285.4" cy="576.1" rx="4.45" ry="4.75"/><ellipse cx="290.2" cy="567.4" rx="4.45" ry="4.75"/><ellipse cx="295.2" cy="586" rx="4.45" ry="4.75"/><ellipse cx="300.3" cy="573.5" rx="4.45" ry="4.75"/><ellipse cx="305.5" cy="575" rx="4.45" ry="4.75"/><ellipse cx="310.5" cy="595.8" rx="4.45" ry="4.75"/><ellipse cx="315.6" cy="575" rx="4.45" ry="4.75"/><ellipse cx="320.8" cy="581.6" rx="4.45" ry="4.75"/><ellipse cx="325.9" cy="573.3" rx="4.45" ry="4.75"/><ellipse cx="330.9" cy="586" rx="4.45" ry="4.75"/><ellipse cx="336.2" cy="583.4" rx="4.45" ry="4.75"/><ellipse cx="341.2" cy="599.1" rx="4.45" ry="4.75"/><ellipse cx="346.2" cy="599.1" rx="4.45" ry="4.75"/><ellipse cx="351.5" cy="595.8" rx="4.45" ry="4.75"/><ellipse cx="356.5" cy="600.2" rx="4.45" ry="4.75"/><ellipse cx="361.6" cy="608.3" rx="4.45" ry="4.75"/><ellipse cx="366.4" cy="594.7" rx="4.45" ry="4.75"/><ellipse cx="371.9" cy="611.8" rx="4.45" ry="4.75"/><ellipse cx="376.9" cy="604.6" rx="4.45" ry="4.75"/><ellipse cx="381.7" cy="593.6" rx="4.45" ry="4.75"/><ellipse cx="387" cy="579.9" rx="4.45" ry="4.75"/><ellipse cx="392.1" cy="620.6" rx="4.45" ry="4.75"/><ellipse cx="396.9" cy="613.4" rx="4.45" ry="4.75"/><ellipse cx="402.4" cy="604.6" rx="4.45" ry="4.75"/><ellipse cx="407.4" cy="598" rx="4.45" ry="4.75"/><ellipse cx="412.2" cy="616.6" rx="4.45" ry="4.75"/><ellipse cx="417.3" cy="611.8" rx="4.45" ry="4.75"/><ellipse cx="422.7" cy="629.3" rx="4.45" ry="4.75"/><ellipse cx="427.6" cy="633.1" rx="4.45" ry="4.75"/><ellipse cx="433" cy="628.7" rx="4.45" ry="4.75"/><ellipse cx="438.5" cy="609" rx="4.45" ry="4.75"/><ellipse cx="443.3" cy="611.2" rx="4.45" ry="4.75"/><ellipse cx="448.4" cy="626.5" rx="4.45" ry="4.75"/><ellipse cx="453.4" cy="617.7" rx="4.45" ry="4.75"/><ellipse cx="458.2" cy="616.6" rx="4.45" ry="4.75"/><ellipse cx="463.7" cy="596.9" rx="4.45" ry="4.75"/><ellipse cx="468.1" cy="607.9" rx="4.45" ry="4.75"/><ellipse cx="473.1" cy="600.2" rx="4.45" ry="4.75"/><ellipse cx="478.4" cy="617.7" rx="4.45" ry="4.75"/><ellipse cx="483.4" cy="595.8" rx="4.45" ry="4.75"/><ellipse cx="488.4" cy="608.3" rx="4.45" ry="4.75"/><ellipse cx="493.7" cy="592.6" rx="4.45" ry="4.75"/><ellipse cx="498.7" cy="586" rx="4.45" ry="4.75"/><ellipse cx="504.2" cy="584.9" rx="4.45" ry="4.75"/><ellipse cx="509.4" cy="602.6" rx="4.45" ry="4.75"/><ellipse cx="514.1" cy="582.1" rx="4.45" ry="4.75"/><ellipse cx="519.5" cy="575.8" rx="4.45" ry="4.75"/><ellipse cx="524.3" cy="595.2" rx="4.45" ry="4.75"/><ellipse cx="529.9" cy="582.8" rx="4.45" ry="4.75"/><ellipse cx="534.8" cy="598.2" rx="4.45" ry="4.75"/><ellipse cx="540" cy="576.3" rx="4.45" ry="4.75"/><ellipse cx="544.4" cy="591.2" rx="4.45" ry="4.75"/><ellipse cx="549.7" cy="594.7" rx="4.45" ry="4.75"/><ellipse cx="554.9" cy="588.5" rx="4.45" ry="4.75"/><ellipse cx="560.2" cy="600.8" rx="4.45" ry="4.75"/><ellipse cx="565.4" cy="587.7" rx="4.45" ry="4.75"/><ellipse cx="570.2" cy="581" rx="4.45" ry="4.75"/><ellipse cx="575.6" cy="580.1" rx="4.45" ry="4.75"/><ellipse cx="580.3" cy="584.2" rx="4.45" ry="4.75"/><ellipse cx="585.6" cy="585" rx="4.45" ry="4.75"/><ellipse cx="590.5" cy="589.4" rx="4.45" ry="4.75"/><ellipse cx="595.8" cy="573.7" rx="4.45" ry="4.75"/><ellipse cx="600.5" cy="589.4" rx="4.45" ry="4.75"/><ellipse cx="606.3" cy="603.4" rx="4.45" ry="4.75"/></g>
<g fill="#0000ff"><path d="M101.6 920.6L106.8 929.9L96.4 929.9Z"/><path d="M107 908.1L112.2 917.4L101.8 917.4Z"/><path d="M112.1 919.1L117.2 928.4L106.9 928.4Z"/><path d="M116.9 920.6L122.1 929.9L111.8 929.9Z"/><path d="M122.4 912.5L127.6 921.8L117.2 921.8Z"/><path d="M127.4 900.5L132.6 909.8L122.2 909.8Z"/><path d="M132.2 911.5L137.3 920.8L127 920.8Z"/><path d="M137.3 914.6L142.5 923.9L132.2 923.9Z"/><path d="M142.7 907.1L147.8 916.4L137.5 916.4Z"/><path d="M147.6 919.1L152.8 928.4L142.4 928.4Z"/><path d="M152.4 897.1L157.6 906.4L147.2 906.4Z"/><path d="M157.4 903.8L162.6 913L152.2 913Z"/><path d="M162.9 896.6L168.1 905.9L157.8 905.9Z"/><path d="M167.9 907.1L173.1 916.4L162.8 916.4Z"/><path d="M172.7 908.1L177.8 917.4L167.5 917.4Z"/><path d="M177.8 900.1L183 909.4L172.7 909.4Z"/><path d="M183.2 910.4L188.3 919.6L178 919.6Z"/><path d="M188.7 922L193.8 931.2L183.5 931.2Z"/><path d="M194 921.2L199.2 930.5L188.8 930.5Z"/><path d="M198.4 909.6L203.6 918.9L193.2 918.9Z"/><path d="M203.4 909.2L208.6 918.5L198.2 918.5Z"/><path d="M208.4 912.5L213.6 921.8L203.2 921.8Z"/><path d="M213.7 922L218.8 931.2L208.5 931.2Z"/><path d="M218.7 897.1L223.8 906.4L213.5 906.4Z"/><path d="M224.2 906L229.3 915.2L219 915.2Z"/><path d="M229.2 894.4L234.3 903.6L224 903.6Z"/><path d="M234 920.1L239.2 929.4L228.8 929.4Z"/><path d="M239.5 893.5L244.7 902.8L234.3 902.8Z"/><path d="M243.9 922.8L249.1 932L238.8 932Z"/><path d="M249.9 917L255.1 926.2L244.8 926.2Z"/><path d="M254.7 914.1L259.8 923.4L249.5 923.4Z"/><path d="M259.7 922.9L264.8 932.1L254.5 932.1Z"/><path d="M265 917L270.1 926.2L259.9 926.2Z"/><path d="M270 891.1L275.1 900.4L264.9 900.4Z"/><path d="M275.1 893.8L280.2 903L270 903Z"/><path d="M280.3 896L285.4 905.2L275.2 905.2Z"/><path d="M284.9 898.8L290 908L279.8 908Z"/><path d="M289.7 903.9L294.8 913.1L284.6 913.1Z"/><path d="M295.2 911.2L300.3 920.5L290.1 920.5Z"/><path d="M300.3 908.6L305.4 917.9L295.2 917.9Z"/><path d="M305.5 887.9L310.6 897.1L300.4 897.1Z"/><path d="M310.5 903.9L315.6 913.1L305.4 913.1Z"/><path d="M315.6 918.5L320.8 927.8L310.5 927.8Z"/><path d="M320.8 902.5L325.9 911.8L315.7 911.8Z"/><path d="M325.9 908.6L331 917.9L320.8 917.9Z"/><path d="M330.9 921.8L336 931L325.8 931Z"/><path d="M335.7 902.5L340.8 911.8L330.6 911.8Z"/><path d="M341.2 902.5L346.3 911.8L336.1 911.8Z"/><path d="M346.7 927.2L351.8 936.5L341.6 936.5Z"/><path d="M351.7 902.5L356.8 911.8L346.6 911.8Z"/><path d="M356.5 877.6L361.6 886.9L351.4 886.9Z"/><path d="M361.6 918.5L366.8 927.8L356.5 927.8Z"/><path d="M366.4 928.4L371.5 937.6L361.2 937.6Z"/><path d="M371.9 909.8L377 919L366.8 919Z"/><path d="M376.9 912.6L382 921.9L371.8 921.9Z"/><path d="M381.9 919.1L387 928.4L376.8 928.4Z"/><path d="M387.2 878.9L392.3 888.1L382.1 888.1Z"/><path d="M392.4 871L397.5 880.2L387.2 880.2Z"/><path d="M396.8 860.5L401.9 869.8L391.7 869.8Z"/><path d="M402.9 861.4L408 870.6L397.8 870.6Z"/><path d="M407.7 843.9L412.8 853.1L402.6 853.1Z"/><path d="M412.6 814.1L417.8 823.4L407.5 823.4Z"/><path d="M417.8 810.6L422.9 819.9L412.7 819.9Z"/><path d="M423.1 807.1L428.2 816.4L418 816.4Z"/><path d="M428.3 763.2L433.4 772.5L423.2 772.5Z"/><path d="M432.7 770.2L437.8 779.5L427.6 779.5Z"/><path d="M438.3 740.6L443.4 749.9L433.2 749.9Z"/><path d="M443.4 695.6L448.5 704.9L438.2 704.9Z"/><path d="M448.5 694.6L453.6 703.9L443.4 703.9Z"/><path d="M453.6 681.4L458.8 690.6L448.5 690.6Z"/><path d="M459 637.8L464.1 647L453.9 647Z"/><path d="M464 637.8L469.1 647L458.9 647Z"/><path d="M469.2 618.6L474.3 627.9L464.1 627.9Z"/><path d="M473.1 602.1L478.2 611.4L468 611.4Z"/><path d="M477.9 610.9L483 620.1L472.8 620.1Z"/><path d="M483.4 592.8L488.5 602L478.2 602Z"/><path d="M488.9 588L494 597.2L483.8 597.2Z"/><path d="M494.3 606.6L499.4 615.9L489.2 615.9Z"/><path d="M499.8 586.9L504.9 596.1L494.7 596.1Z"/><path d="M505.9 584.8L511 594L500.8 594Z"/><path d="M509.4 602.2L514.5 611.5L504.2 611.5Z"/><path d="M514.6 584.8L519.8 594L509.5 594Z"/><path d="M519.9 579.6L525 588.9L514.8 588.9Z"/><path d="M524.6 598L529.8 607.2L519.5 607.2Z"/><path d="M529.9 613.6L535 622.9L524.8 622.9Z"/><path d="M535.1 604.6L540.2 613.9L530 613.9Z"/><path d="M540 599.6L545.1 608.9L534.9 608.9Z"/><path d="M545 611.1L550.1 620.4L539.9 620.4Z"/><path d="M550.2 586.6L555.4 595.9L545.1 595.9Z"/><path d="M554.9 594.5L560 603.8L549.8 603.8Z"/><path d="M560.2 596.1L565.4 605.4L555.1 605.4Z"/><path d="M565.4 565.5L570.5 574.8L560.2 574.8Z"/><path d="M570.7 586.6L575.9 595.9L565.6 595.9Z"/><path d="M575.4 591.8L580.5 601L570.2 601Z"/><path d="M580.3 579.6L585.4 588.9L575.1 588.9Z"/><path d="M585.6 587.4L590.8 596.6L580.5 596.6Z"/><path d="M590.8 582.1L595.9 591.4L585.6 591.4Z"/><path d="M596.1 585.6L601.2 594.9L591 594.9Z"/><path d="M601.4 571.2L606.5 580.5L596.2 580.5Z"/><path d="M606.3 584.2L611.4 593.5L601.1 593.5Z"/></g>
<path d="M101 920.2 C101.2 916.8 101.7 908.3 102 900 C102.5 886.8 102.7 868.3 103.2 848.5 C103.9 821.4 104.7 777.9 105.6 752.3 C106.2 735.3 106.8 722.9 107.5 710 C108.1 699.2 108.6 690 109.2 680.2 C109.8 670.7 110.3 660.6 111 652 C111.6 644.8 112.2 638.5 112.8 632.1 C113.4 626.2 113.8 620.2 114.5 615 C115.1 610.7 115.5 606.8 116.4 603.3 C117.1 600.4 117.9 598.2 119 595.5 C120.3 592.3 121.8 587.7 123.7 585.5 C125 584 126.4 583.3 128 582.5 C129.6 581.7 131.4 581 133.3 580.6 C135.4 580.2 137.2 580.2 140 580.1 C144.9 579.9 152.2 580.2 160 580.3 C171 580.4 187.1 580.4 200 580.8 C212.1 581.2 222.7 581.5 235 582.4 C248.8 583.5 264.2 585.2 278.8 587.1 C293.4 589 309.1 591.1 322.6 593.6 C334.4 595.8 344.8 598.1 355.4 601 C365.6 603.8 375.5 607.9 385 610.5 C393.6 612.9 402.1 614 410 616.3 C417.2 618.4 424.1 621.3 430.4 623.5 C435.9 625.4 441 626.4 445.8 628.6 C450.5 630.8 456.1 637.5 459 636.7 C461.2 636.1 461.7 631.5 463.1 628.6 C464.7 625.4 466.3 621.4 468.2 618.4 C469.9 615.6 471.9 613.1 474 611 C475.9 609.1 478.1 607.6 480 606.1 C481.6 604.8 482.9 603.5 484.5 602.4 C486.2 601.3 487.6 600.3 490 599.5 C493.9 598.1 500.7 597.3 506.4 596.5 C512.4 595.7 517.8 595 525 594.7 C534.8 594.3 547.2 594.9 560 595 C575.4 595.1 602.5 595 611 595" fill="none" stroke="#000" stroke-width="1.9" stroke-linejoin="round"/>
<path d="M101 920.9 L381.5 920.9 C381.7 919.8 382 916.9 382.8 914.2 C384 910 386.8 903.8 388.9 898.4 C391.1 892.7 393.5 886.9 395.9 880.9 C398.4 874.6 401.1 868.8 403.8 861.6 C407.2 852.8 411 842.3 414.3 831.8 C418 820.2 421.7 806.5 424.8 795 C427.5 785.1 429.3 777.2 431.8 767 C434.8 754.6 438 739.8 441.4 725.8 C444.9 711.1 449.5 694.5 452.6 680.9 C455.1 669.7 457.2 657.7 458.8 650.2 C459.7 645.9 460 643.5 461 640 C462.1 636.1 463.3 631.9 465 628 C466.7 624.1 468.6 619.5 471.3 616.6 C473.7 614 477 612.5 480 611 C482.9 609.6 485.4 608.9 488.9 607.9 C493.7 606.5 500.4 604.4 506.4 603.5 C512.5 602.6 517.8 602.7 525 602.4 C534.8 602 547.2 601.7 560 601.5 C575.4 601.3 602.5 601.2 611 601.2" fill="none" stroke="#000" stroke-width="1.9" stroke-dasharray="9.5 10.5"/>
<g fill="#008000"><rect x="97.8" y="898.4" width="7.6" height="8.3"/><rect x="103.2" y="889" width="7.6" height="8.3"/><rect x="107.6" y="860.5" width="7.6" height="8.3"/><rect x="113.1" y="859.4" width="7.6" height="8.3"/><rect x="118.6" y="859.4" width="7.6" height="8.3"/><rect x="123.6" y="850.6" width="7.6" height="8.3"/><rect x="128.4" y="855.5" width="7.6" height="8.3"/><rect x="133.5" y="833.6" width="7.6" height="8.3"/><rect x="138.9" y="834.1" width="7.6" height="8.3"/><rect x="143.8" y="835.8" width="7.6" height="8.3"/><rect x="148.6" y="844.1" width="7.6" height="8.3"/><rect x="153.6" y="853.9" width="7.6" height="8.3"/><rect x="158.6" y="852.4" width="7.6" height="8.3"/><rect x="163.9" y="849.5" width="7.6" height="8.3"/><rect x="168.9" y="829.8" width="7.6" height="8.3"/><rect x="174" y="842.2" width="7.6" height="8.3"/><rect x="179.4" y="845.1" width="7.6" height="8.3"/><rect x="184.3" y="846.6" width="7.6" height="8.3"/><rect x="189.3" y="821.6" width="7.6" height="8.3"/><rect x="194.6" y="850.1" width="7.6" height="8.3"/><rect x="199.6" y="834.1" width="7.6" height="8.3"/><rect x="204.6" y="826.1" width="7.6" height="8.3"/><rect x="209.4" y="850.6" width="7.6" height="8.3"/><rect x="214.9" y="849.5" width="7.6" height="8.3"/><rect x="220.4" y="826.1" width="7.6" height="8.3"/><rect x="225.2" y="837.9" width="7.6" height="8.3"/><rect x="229.8" y="813.4" width="7.6" height="8.3"/><rect x="235.1" y="835.2" width="7.6" height="8.3"/><rect x="240.4" y="829.9" width="7.6" height="8.3"/><rect x="246.1" y="826.4" width="7.6" height="8.3"/><rect x="250.9" y="828.1" width="7.6" height="8.3"/><rect x="255.9" y="831.4" width="7.6" height="8.3"/><rect x="261.2" y="828.1" width="7.6" height="8.3"/><rect x="266.2" y="824.9" width="7.6" height="8.3"/><rect x="271.3" y="824.1" width="7.6" height="8.3"/><rect x="276.1" y="821.6" width="7.6" height="8.3"/><rect x="281.1" y="803.6" width="7.6" height="8.3"/><rect x="286.4" y="786.1" width="7.6" height="8.3"/><rect x="291.4" y="809.5" width="7.6" height="8.3"/><rect x="296.5" y="782.1" width="7.6" height="8.3"/><rect x="301.3" y="804.5" width="7.6" height="8.3"/><rect x="306.7" y="779.5" width="7.6" height="8.3"/><rect x="311.8" y="782.1" width="7.6" height="8.3"/><rect x="317" y="767.9" width="7.6" height="8.3"/><rect x="322.1" y="759.8" width="7.6" height="8.3"/><rect x="327.1" y="776.6" width="7.6" height="8.3"/><rect x="331.9" y="778.9" width="7.6" height="8.3"/><rect x="337.4" y="771.1" width="7.6" height="8.3"/><rect x="342.4" y="767.5" width="7.6" height="8.3"/><rect x="347.7" y="748.2" width="7.6" height="8.3"/><rect x="352.4" y="750.2" width="7.6" height="8.3"/><rect x="357.9" y="730.2" width="7.6" height="8.3"/><rect x="362.6" y="708.5" width="7.6" height="8.3"/><rect x="368.1" y="714.6" width="7.6" height="8.3"/><rect x="372.8" y="711.9" width="7.6" height="8.3"/><rect x="378.3" y="686" width="7.6" height="8.3"/><rect x="383.4" y="689.4" width="7.6" height="8.3"/><rect x="387.9" y="694.1" width="7.6" height="8.3"/><rect x="393.2" y="664.5" width="7.6" height="8.3"/><rect x="398.1" y="683.9" width="7.6" height="8.3"/><rect x="403.5" y="660.4" width="7.6" height="8.3"/><rect x="408.9" y="646.2" width="7.6" height="8.3"/><rect x="413.7" y="660.8" width="7.6" height="8.3"/><rect x="418.8" y="636.2" width="7.6" height="8.3"/><rect x="423.8" y="646.4" width="7.6" height="8.3"/><rect x="428.6" y="636.6" width="7.6" height="8.3"/><rect x="433.7" y="605.8" width="7.6" height="8.3"/><rect x="439" y="613.1" width="7.6" height="8.3"/><rect x="444.4" y="597.2" width="7.6" height="8.3"/><rect x="449" y="586.9" width="7.6" height="8.3"/><rect x="454.3" y="574.4" width="7.6" height="8.3"/><rect x="459.2" y="688.1" width="7.6" height="8.3"/><rect x="463.8" y="703.5" width="7.6" height="8.3"/><rect x="469.1" y="718.6" width="7.6" height="8.3"/><rect x="474.8" y="745.4" width="7.6" height="8.3"/><rect x="479.7" y="731" width="7.6" height="8.3"/><rect x="484.7" y="739.9" width="7.6" height="8.3"/><rect x="489.8" y="743.6" width="7.6" height="8.3"/><rect x="495.2" y="771.9" width="7.6" height="8.3"/><rect x="500" y="740.6" width="7.6" height="8.3"/><rect x="505.4" y="773.6" width="7.6" height="8.3"/><rect x="510.2" y="755.1" width="7.6" height="8.3"/><rect x="515.3" y="771.9" width="7.6" height="8.3"/><rect x="520.7" y="765.9" width="7.6" height="8.3"/><rect x="525.8" y="769.1" width="7.6" height="8.3"/><rect x="530.7" y="772.9" width="7.6" height="8.3"/><rect x="536" y="761.6" width="7.6" height="8.3"/><rect x="540.8" y="779.9" width="7.6" height="8.3"/><rect x="546.1" y="780.8" width="7.6" height="8.3"/><rect x="551.3" y="769.1" width="7.6" height="8.3"/><rect x="556.2" y="782" width="7.6" height="8.3"/><rect x="561.5" y="779.2" width="7.6" height="8.3"/><rect x="566.7" y="768.5" width="7.6" height="8.3"/><rect x="571.9" y="782.5" width="7.6" height="8.3"/><rect x="576.7" y="759.6" width="7.6" height="8.3"/><rect x="581.6" y="771.6" width="7.6" height="8.3"/><rect x="586.7" y="784.1" width="7.6" height="8.3"/><rect x="592.2" y="760.1" width="7.6" height="8.3"/><rect x="596.9" y="780.4" width="7.6" height="8.3"/><rect x="602.2" y="759.6" width="7.6" height="8.3"/></g>
<path d="M101 918.2 C101.2 916 101.8 909.2 102.3 905 C102.8 901.2 103.3 898.2 103.8 894 C104.5 888.5 105.1 880.1 106 875 C106.6 871.4 107.1 868.9 108 866 C108.8 863.2 109.6 860.5 111 858 C112.5 855.3 114.8 852.2 116.9 850.4 C118.5 849 120.2 848.4 122 847.5 C123.8 846.6 125.5 845.6 127.8 844.9 C130.8 844 133.6 843.5 138.8 843.1 C150.9 842.1 186 844.9 200.1 842.7 C207.8 841.5 211.7 838.8 217.6 837.2 C223.4 835.7 228.9 835.1 235 833.4 C241.9 831.4 249.3 829.3 256.9 825.7 C266 821.4 277.4 813.2 285.4 808.2 C291.3 804.5 295.2 802 300.7 798.3 C307.4 793.8 315.6 789 322.6 783 C330.2 776.4 339.7 766.2 344.5 760 C347.4 756.3 347.7 754.4 350.4 750.4 C355.1 743.3 364.2 731.5 370.9 721.7 C377.8 711.7 384.3 700.8 391.3 691.1 C397.9 681.8 405.6 672.8 411.7 664.5 C417 657.3 421.8 651.4 426 644.1 C430.4 636.4 434 627.8 437.6 619.4 C441.2 611 445.1 601.3 447.8 593.8 C449.9 587.9 452.1 580.6 453 578 L458 563.2 C458.2 578.8 457.7 639.2 459 657 C459.5 664.2 460.2 667.6 461 672 C461.6 675.6 462.3 677.8 463.1 681.7 C464.3 687.6 465.5 697.1 467.2 704.2 C468.8 710.8 470.8 716.9 473 723 C475.1 728.9 477.1 734.6 480 740 C482.8 745.3 486.3 751 490 755 C493.1 758.4 496.2 760.6 500 763 C504.4 765.7 509.9 768.4 515 770 C519.9 771.6 523 772.1 530 772.8 C546.2 774.3 597.5 772.8 611 772.8" fill="none" stroke="#000" stroke-width="1.9" stroke-dasharray="10.5 6 2 6"/>
<g stroke="#000" stroke-width="1.8" fill="none" stroke-linecap="square">
<path d="M76.5 541V944H621.2V541"/>
<path d="M101 944V953M126.5 944V949M152 944V953M177.5 944V949M203 944V953M228.5 944V949M254 944V953M279.5 944V949M305 944V953M330.5 944V949M356 944V953M381.5 944V949M407 944V953M432.5 944V949M458 944V953M483.5 944V949M509 944V953M534.5 944V949M560 944V953M585.5 944V949M611 944V953M76.5 943.1H71.5M76.5 920.2H67.5M76.5 897.4H71.5M76.5 874.5H67.5M76.5 851.7H71.5M76.5 828.8H67.5M76.5 806H71.5M76.5 783.1H67.5M76.5 760.2H71.5M76.5 737.4H67.5M76.5 714.6H71.5M76.5 691.7H67.5M76.5 668.9H71.5M76.5 646H67.5M76.5 623.2H71.5M76.5 600.3H67.5M76.5 577.5H71.5M76.5 554.6H67.5M621.2 918.2H612.2M621.2 891.3H616.2M621.2 864.4H612.2M621.2 837.5H616.2M621.2 810.6H612.2M621.2 783.7H616.2M621.2 756.8H612.2M621.2 729.9H616.2M621.2 703H612.2M621.2 676.1H616.2M621.2 649.2H612.2M621.2 622.3H616.2M621.2 595.4H612.2M621.2 568.5H616.2M621.2 541.6H612.2" stroke-linecap="butt"/>
</g>
<g font-size="22.5"><text transform="translate(61.2 927.8) scale(1 1.12)" text-anchor="end">0</text><text transform="translate(61.2 882.1) scale(1 1.12)" text-anchor="end">10</text><text transform="translate(61.2 836.4) scale(1 1.12)" text-anchor="end">20</text><text transform="translate(61.2 790.7) scale(1 1.12)" text-anchor="end">30</text><text transform="translate(61.2 745) scale(1 1.12)" text-anchor="end">40</text><text transform="translate(61.2 699.3) scale(1 1.12)" text-anchor="end">50</text><text transform="translate(61.2 653.6) scale(1 1.12)" text-anchor="end">60</text><text transform="translate(61.2 607.9) scale(1 1.12)" text-anchor="end">70</text><text transform="translate(61.2 562.2) scale(1 1.12)" text-anchor="end">80</text><text transform="translate(629.7 925.8) scale(1 1.12)">0</text><text transform="translate(629.7 872) scale(1 1.12)">2</text><text transform="translate(629.7 818.2) scale(1 1.12)">4</text><text transform="translate(629.7 764.4) scale(1 1.12)">6</text><text transform="translate(629.7 710.6) scale(1 1.12)">8</text><text transform="translate(629.7 656.8) scale(1 1.12)">10</text><text transform="translate(629.7 603) scale(1 1.12)">12</text><text transform="translate(629.7 549.2) scale(1 1.12)">14</text><text transform="translate(101 975.9) scale(1 1.12)" text-anchor="middle">0</text><text transform="translate(152 975.9) scale(1 1.12)" text-anchor="middle">1</text><text transform="translate(203 975.9) scale(1 1.12)" text-anchor="middle">2</text><text transform="translate(254 975.9) scale(1 1.12)" text-anchor="middle">3</text><text transform="translate(305 975.9) scale(1 1.12)" text-anchor="middle">4</text><text transform="translate(356 975.9) scale(1 1.12)" text-anchor="middle">5</text><text transform="translate(407 975.9) scale(1 1.12)" text-anchor="middle">6</text><text transform="translate(458 975.9) scale(1 1.12)" text-anchor="middle">7</text><text transform="translate(509 975.9) scale(1 1.12)" text-anchor="middle">8</text><text transform="translate(560 975.9) scale(1 1.12)" text-anchor="middle">9</text><text transform="translate(611 975.9) scale(1 1.12)" text-anchor="middle">10</text></g>
<text transform="translate(334.2 1001.3) scale(1 1.08)" font-size="24"><tspan font-style="italic">t</tspan> (s)</text>
<text transform="translate(27.4 749.1) rotate(-90)" font-size="24.4" text-anchor="middle"><tspan font-style="italic">Rotary speed</tspan> (rad/s)</text>
<text transform="translate(675.3 759) rotate(-90)" font-size="24" text-anchor="middle"><tspan font-style="italic">M</tspan> (N·m)</text>
<text x="193.7" y="1042.2" font-size="39.5" font-weight="bold">b</text>
<text x="229.9" y="1039.6" font-size="25.6">Linear parabolic strategy.</text>
<rect x="141.7" y="619.2" width="123.3" height="160.7" fill="#fff" stroke="none"/>
<path d="M141.7 619.2V779.9" stroke="#9c9c9c" stroke-width="1.2"/>
<path d="M265 619.2V779.9" stroke="#c8c8c8" stroke-width="1.2"/>
<path d="M141.7 619.2H265" stroke="#a8a8a8" stroke-width="1.3"/>
<path d="M141.7 779.9H265" stroke="#bbb" stroke-width="1.4"/>
<g fill="#ff0000"><ellipse cx="173.2" cy="630.4" rx="4.3" ry="4.5"/></g>
<g fill="#0000ff"><path d="M173.2 652.2L178.2 660.8L168.2 660.8Z"/></g>
<path d="M148.7 682.9H198.2" stroke="#000" stroke-width="1.9"/>
<path d="M148.7 709.8H198.2" stroke="#000" stroke-width="1.9" stroke-dasharray="9.5 10.5"/>
<g fill="#008000"><rect x="167.5" y="732.7" width="7.4" height="8"/></g>
<path d="M148.7 762.8H198.2" stroke="#000" stroke-width="1.9" stroke-dasharray="10.5 6 2 6"/>
<text x="203.6" y="637.6"><tspan font-size="21" font-style="italic" fill="#1a1a1a">ω</tspan><tspan font-size="12.2" fill="#333">1</tspan><tspan font-size="12.5" fill="#3a3a3a">_Exp</tspan></text>
<text x="203.6" y="663.7"><tspan font-size="21" font-style="italic" fill="#1a1a1a">ω</tspan><tspan font-size="12.2" fill="#333">2</tspan><tspan font-size="12.5" fill="#3a3a3a" dx="2.5"> Exp</tspan></text>
<text x="203.6" y="690.1"><tspan font-size="21" font-style="italic" fill="#1a1a1a">ω</tspan><tspan font-size="12.2" fill="#333">1</tspan><tspan font-size="12.5" fill="#3a3a3a">_Num</tspan></text>
<text x="203.6" y="717"><tspan font-size="21" font-style="italic" fill="#1a1a1a">ω</tspan><tspan font-size="12.2" fill="#333">2</tspan><tspan font-size="12.5" fill="#3a3a3a">_Num</tspan></text>
<text x="203.6" y="743.9"><tspan font-size="20" font-style="italic" fill="#1a1a1a">M</tspan><tspan font-size="12.2" fill="#333">2</tspan><tspan font-size="12.5" fill="#3a3a3a" dx="2.5"> Exp</tspan></text>
<text x="203.6" y="770"><tspan font-size="20" font-style="italic" fill="#1a1a1a">M</tspan><tspan font-size="12.2" fill="#333">2</tspan><tspan font-size="12.5" fill="#3a3a3a">_Num</tspan></text>
<g fill="#ff0000"><ellipse cx="105" cy="1249.5" rx="4.45" ry="4.75"/><ellipse cx="110.7" cy="1181" rx="4.45" ry="4.75"/><ellipse cx="115.4" cy="1120.7" rx="4.45" ry="4.75"/><ellipse cx="120.7" cy="1101.3" rx="4.45" ry="4.75"/><ellipse cx="126.1" cy="1099.6" rx="4.45" ry="4.75"/><ellipse cx="130.5" cy="1082.7" rx="4.45" ry="4.75"/><ellipse cx="136" cy="1077.7" rx="4.45" ry="4.75"/><ellipse cx="141.5" cy="1083.6" rx="4.45" ry="4.75"/><ellipse cx="146.5" cy="1103.9" rx="4.45" ry="4.75"/><ellipse cx="151.7" cy="1098" rx="4.45" ry="4.75"/><ellipse cx="156.8" cy="1086.4" rx="4.45" ry="4.75"/><ellipse cx="161.8" cy="1095.8" rx="4.45" ry="4.75"/><ellipse cx="167.1" cy="1086.4" rx="4.45" ry="4.75"/><ellipse cx="172.1" cy="1078.8" rx="4.45" ry="4.75"/><ellipse cx="177.1" cy="1100.7" rx="4.45" ry="4.75"/><ellipse cx="182.4" cy="1109.4" rx="4.45" ry="4.75"/><ellipse cx="187.4" cy="1088" rx="4.45" ry="4.75"/><ellipse cx="192.5" cy="1089.3" rx="4.45" ry="4.75"/><ellipse cx="197.3" cy="1095.8" rx="4.45" ry="4.75"/><ellipse cx="202.8" cy="1097.4" rx="4.45" ry="4.75"/><ellipse cx="208.2" cy="1080.5" rx="4.45" ry="4.75"/><ellipse cx="213.3" cy="1112" rx="4.45" ry="4.75"/><ellipse cx="218.1" cy="1085.8" rx="4.45" ry="4.75"/><ellipse cx="223.1" cy="1105.5" rx="4.45" ry="4.75"/><ellipse cx="228.4" cy="1114.9" rx="4.45" ry="4.75"/><ellipse cx="233.4" cy="1105.3" rx="4.45" ry="4.75"/><ellipse cx="238.3" cy="1102.4" rx="4.45" ry="4.75"/><ellipse cx="244.2" cy="1102.8" rx="4.45" ry="4.75"/><ellipse cx="249.3" cy="1125.2" rx="4.45" ry="4.75"/><ellipse cx="254.1" cy="1109" rx="4.45" ry="4.75"/><ellipse cx="259.6" cy="1101.1" rx="4.45" ry="4.75"/><ellipse cx="264.4" cy="1111.2" rx="4.45" ry="4.75"/><ellipse cx="269.9" cy="1078.8" rx="4.45" ry="4.75"/><ellipse cx="274.9" cy="1095.8" rx="4.45" ry="4.75"/><ellipse cx="279.9" cy="1100.2" rx="4.45" ry="4.75"/><ellipse cx="285.2" cy="1114.2" rx="4.45" ry="4.75"/><ellipse cx="290.2" cy="1099.6" rx="4.45" ry="4.75"/><ellipse cx="295.3" cy="1119.9" rx="4.45" ry="4.75"/><ellipse cx="300.5" cy="1109.4" rx="4.45" ry="4.75"/><ellipse cx="305.5" cy="1129.1" rx="4.45" ry="4.75"/><ellipse cx="311" cy="1124.3" rx="4.45" ry="4.75"/><ellipse cx="316.1" cy="1118.6" rx="4.45" ry="4.75"/><ellipse cx="320.9" cy="1127.4" rx="4.45" ry="4.75"/><ellipse cx="326.3" cy="1135.7" rx="4.45" ry="4.75"/><ellipse cx="331.2" cy="1118.2" rx="4.45" ry="4.75"/><ellipse cx="336.2" cy="1130.9" rx="4.45" ry="4.75"/><ellipse cx="341.2" cy="1126.9" rx="4.45" ry="4.75"/><ellipse cx="346.5" cy="1133.5" rx="4.45" ry="4.75"/><ellipse cx="352" cy="1130.2" rx="4.45" ry="4.75"/><ellipse cx="357" cy="1145.5" rx="4.45" ry="4.75"/><ellipse cx="362" cy="1139.6" rx="4.45" ry="4.75"/><ellipse cx="367.3" cy="1138.3" rx="4.45" ry="4.75"/><ellipse cx="372.4" cy="1121.4" rx="4.45" ry="4.75"/><ellipse cx="377.4" cy="1132.1" rx="4.45" ry="4.75"/><ellipse cx="382.7" cy="1125.7" rx="4.45" ry="4.75"/><ellipse cx="387.5" cy="1141.5" rx="4.45" ry="4.75"/><ellipse cx="392.6" cy="1129" rx="4.45" ry="4.75"/><ellipse cx="398" cy="1122.4" rx="4.45" ry="4.75"/><ellipse cx="403.3" cy="1138.4" rx="4.45" ry="4.75"/><ellipse cx="408.5" cy="1121" rx="4.45" ry="4.75"/><ellipse cx="413.8" cy="1121.7" rx="4.45" ry="4.75"/><ellipse cx="418.2" cy="1140.6" rx="4.45" ry="4.75"/><ellipse cx="423.6" cy="1147.6" rx="4.45" ry="4.75"/><ellipse cx="428.7" cy="1125.3" rx="4.45" ry="4.75"/><ellipse cx="433.9" cy="1144.3" rx="4.45" ry="4.75"/><ellipse cx="439" cy="1098.3" rx="4.45" ry="4.75"/><ellipse cx="444.4" cy="1136.6" rx="4.45" ry="4.75"/><ellipse cx="449.3" cy="1109.9" rx="4.45" ry="4.75"/><ellipse cx="454.3" cy="1100.5" rx="4.45" ry="4.75"/><ellipse cx="459.3" cy="1106.4" rx="4.45" ry="4.75"/><ellipse cx="464.6" cy="1132.3" rx="4.45" ry="4.75"/><ellipse cx="470.3" cy="1124.6" rx="4.45" ry="4.75"/><ellipse cx="475.1" cy="1123.5" rx="4.45" ry="4.75"/><ellipse cx="479.5" cy="1106.4" rx="4.45" ry="4.75"/><ellipse cx="485" cy="1099.9" rx="4.45" ry="4.75"/><ellipse cx="490" cy="1116.9" rx="4.45" ry="4.75"/><ellipse cx="495.2" cy="1106.4" rx="4.45" ry="4.75"/><ellipse cx="500.3" cy="1099.4" rx="4.45" ry="4.75"/><ellipse cx="506.3" cy="1101.2" rx="4.45" ry="4.75"/><ellipse cx="511.2" cy="1107.1" rx="4.45" ry="4.75"/><ellipse cx="515.9" cy="1102.9" rx="4.45" ry="4.75"/><ellipse cx="521.1" cy="1125.2" rx="4.45" ry="4.75"/><ellipse cx="526" cy="1108.9" rx="4.45" ry="4.75"/><ellipse cx="531.3" cy="1114.1" rx="4.45" ry="4.75"/><ellipse cx="536.5" cy="1111.7" rx="4.45" ry="4.75"/><ellipse cx="541.8" cy="1126.9" rx="4.45" ry="4.75"/><ellipse cx="546.7" cy="1129.9" rx="4.45" ry="4.75"/><ellipse cx="551.4" cy="1110" rx="4.45" ry="4.75"/><ellipse cx="556.7" cy="1105.9" rx="4.45" ry="4.75"/><ellipse cx="561.9" cy="1115.5" rx="4.45" ry="4.75"/><ellipse cx="567.2" cy="1097.7" rx="4.45" ry="4.75"/><ellipse cx="572.4" cy="1128.7" rx="4.45" ry="4.75"/><ellipse cx="577.2" cy="1105.9" rx="4.45" ry="4.75"/><ellipse cx="582.4" cy="1099.8" rx="4.45" ry="4.75"/><ellipse cx="587.7" cy="1125.7" rx="4.45" ry="4.75"/><ellipse cx="592.6" cy="1125.7" rx="4.45" ry="4.75"/><ellipse cx="597.9" cy="1125.2" rx="4.45" ry="4.75"/><ellipse cx="603.5" cy="1106.8" rx="4.45" ry="4.75"/><ellipse cx="608.7" cy="1112.9" rx="4.45" ry="4.75"/></g>
<g fill="#0000ff"><path d="M99.9 1445.1L105.1 1454.5L94.8 1454.5Z"/><path d="M106.4 1447.3L111.6 1456.7L101.2 1456.7Z"/><path d="M110.8 1426.5L116 1435.9L105.6 1435.9Z"/><path d="M115.8 1450.5L121 1459.9L110.6 1459.9Z"/><path d="M121.1 1436.8L126.2 1446.2L115.9 1446.2Z"/><path d="M126.1 1434.6L131.2 1444L120.9 1444Z"/><path d="M131.2 1416.6L136.3 1426L126 1426Z"/><path d="M136.4 1449.5L141.6 1458.9L131.2 1458.9Z"/><path d="M141.5 1439.6L146.7 1449L136.3 1449Z"/><path d="M146.9 1441.8L152.1 1451.2L141.8 1451.2Z"/><path d="M151.7 1427.6L156.8 1437L146.5 1437Z"/><path d="M156.8 1458.2L162 1467.6L151.7 1467.6Z"/><path d="M161.8 1435.9L167 1445.2L156.7 1445.2Z"/><path d="M167.1 1439.6L172.2 1449L161.9 1449Z"/><path d="M172.1 1432.4L177.2 1441.8L166.9 1441.8Z"/><path d="M177.1 1448.4L182.2 1457.8L171.9 1457.8Z"/><path d="M182 1451.6L187.2 1461L176.8 1461Z"/><path d="M187.4 1433.8L192.6 1443.1L182.2 1443.1Z"/><path d="M192.5 1452.8L197.7 1462.1L187.3 1462.1Z"/><path d="M197.7 1451.6L202.8 1461L192.5 1461Z"/><path d="M202.8 1424.9L208 1434.2L197.7 1434.2Z"/><path d="M207.8 1439.6L213 1449L202.7 1449Z"/><path d="M213.1 1431.5L218.2 1440.9L207.9 1440.9Z"/><path d="M218.1 1418.8L223.2 1428.2L212.9 1428.2Z"/><path d="M223.6 1447.3L228.8 1456.7L218.4 1456.7Z"/><path d="M228.4 1429.8L233.6 1439.1L223.2 1439.1Z"/><path d="M233.4 1427.6L238.6 1437L228.2 1437Z"/><path d="M238.5 1438.6L243.7 1448L233.3 1448Z"/><path d="M244.9 1435.8L250.1 1445.2L239.8 1445.2Z"/><path d="M250.1 1432.1L255.2 1441.5L244.9 1441.5Z"/><path d="M255.2 1427L260.3 1436.4L250 1436.4Z"/><path d="M260.2 1427.8L265.3 1437.1L255 1437.1Z"/><path d="M264.6 1418.9L269.8 1428.2L259.5 1428.2Z"/><path d="M269.9 1433.2L275 1442.6L264.8 1442.6Z"/><path d="M274.9 1441.9L280 1451.2L269.8 1451.2Z"/><path d="M279.9 1416.1L285 1425.5L274.8 1425.5Z"/><path d="M284.7 1441.9L289.8 1451.2L279.6 1451.2Z"/><path d="M290.2 1452.4L295.3 1461.8L285.1 1461.8Z"/><path d="M295.7 1446.8L300.8 1456.2L290.6 1456.2Z"/><path d="M300.5 1432.1L305.6 1441.5L295.4 1441.5Z"/><path d="M305.5 1451.8L310.6 1461.2L300.4 1461.2Z"/><path d="M311 1458.4L316.1 1467.8L305.9 1467.8Z"/><path d="M316.1 1431L321.2 1440.4L311 1440.4Z"/><path d="M321.5 1424L326.6 1433.4L316.4 1433.4Z"/><path d="M326.3 1431.4L331.4 1440.8L321.2 1440.8Z"/><path d="M331.8 1422.8L336.9 1432.1L326.7 1432.1Z"/><path d="M336.6 1384.6L341.8 1394L331.5 1394Z"/><path d="M342 1383.5L347.1 1392.9L336.9 1392.9Z"/><path d="M346.8 1352.1L351.9 1361.5L341.7 1361.5Z"/><path d="M352.6 1346.6L357.8 1356L347.5 1356Z"/><path d="M357.7 1337.1L362.8 1346.5L352.6 1346.5Z"/><path d="M362.1 1311.6L367.2 1321L357 1321Z"/><path d="M367.2 1290.4L372.3 1299.8L362.1 1299.8Z"/><path d="M372.5 1285.3L377.6 1294.7L367.4 1294.7Z"/><path d="M377.3 1248.4L382.4 1257.8L372.2 1257.8Z"/><path d="M382.6 1254.4L387.8 1263.8L377.5 1263.8Z"/><path d="M387.8 1239.5L392.9 1248.9L382.7 1248.9Z"/><path d="M393.1 1181.2L398.2 1190.6L388 1190.6Z"/><path d="M398.3 1202.8L403.4 1212.1L393.2 1212.1Z"/><path d="M402.7 1207.1L407.8 1216.5L397.6 1216.5Z"/><path d="M408 1177.3L413.1 1186.7L402.9 1186.7Z"/><path d="M413.2 1192.8L418.3 1202.2L408.1 1202.2Z"/><path d="M418.9 1138.9L424 1148.2L413.8 1148.2Z"/><path d="M424.7 1142.9L429.8 1152.2L419.6 1152.2Z"/><path d="M429.1 1149L434.2 1158.4L424 1158.4Z"/><path d="M433.5 1121.4L438.6 1130.8L428.4 1130.8Z"/><path d="M439.1 1140.4L444.2 1149.8L434 1149.8Z"/><path d="M444.4 1132.4L449.5 1141.8L439.2 1141.8Z"/><path d="M449.3 1117L454.4 1126.4L444.2 1126.4Z"/><path d="M455 1114L460.1 1123.4L449.9 1123.4Z"/><path d="M459.8 1141.1L464.9 1150.5L454.7 1150.5Z"/><path d="M464.6 1112.8L469.8 1122.1L459.5 1122.1Z"/><path d="M470.3 1117.8L475.4 1127.1L465.2 1127.1Z"/><path d="M474.7 1108.3L479.8 1117.7L469.6 1117.7Z"/><path d="M479.9 1112.8L485 1122.1L474.8 1122.1Z"/><path d="M485 1105.2L490.1 1114.6L479.9 1114.6Z"/><path d="M490.4 1133L495.5 1142.4L485.2 1142.4Z"/><path d="M495.2 1107.9L500.3 1117.2L490.1 1117.2Z"/><path d="M500.3 1097.3L505.4 1106.7L495.2 1106.7Z"/><path d="M505.3 1103.5L510.4 1112.9L500.2 1112.9Z"/><path d="M511.2 1100.2L516.4 1109.6L506.1 1109.6Z"/><path d="M515.8 1113.3L520.9 1122.7L510.6 1122.7Z"/><path d="M521.1 1124.9L526.2 1134.2L516 1134.2Z"/><path d="M526 1106.5L531.1 1115.9L520.9 1115.9Z"/><path d="M531.6 1131.5L536.8 1140.9L526.5 1140.9Z"/><path d="M536.5 1111.8L541.6 1121.1L531.4 1121.1Z"/><path d="M541.4 1118.8L546.5 1128.1L536.2 1128.1Z"/><path d="M546.7 1115.8L551.9 1125.2L541.6 1125.2Z"/><path d="M552 1129.3L557.1 1138.7L546.9 1138.7Z"/><path d="M557.2 1121.4L562.4 1130.8L552.1 1130.8Z"/><path d="M561.9 1099.5L567 1108.9L556.8 1108.9Z"/><path d="M567.2 1103L572.4 1112.4L562.1 1112.4Z"/><path d="M572.4 1116.5L577.5 1125.9L567.2 1125.9Z"/><path d="M577.2 1107L582.4 1116.4L572.1 1116.4Z"/><path d="M582.4 1121L587.5 1130.4L577.2 1130.4Z"/><path d="M587.7 1111.2L592.9 1120.6L582.6 1120.6Z"/><path d="M592.6 1136.8L597.8 1146.2L587.5 1146.2Z"/><path d="M598.2 1112.6L603.4 1122L593.1 1122Z"/><path d="M603.5 1124.9L608.6 1134.2L598.4 1134.2Z"/><path d="M608.7 1111.2L613.9 1120.6L603.6 1120.6Z"/></g>
<path d="M100.4 1450 C100.7 1436.1 101.7 1394.7 102.5 1366.6 C103.3 1337.8 104.2 1306.1 105.1 1279 C105.8 1255.5 106.5 1233 107.3 1213.3 C108 1197.2 108.5 1182.8 109.5 1169.5 C110.3 1158.3 111.2 1148.1 112.6 1138.8 C113.8 1130.9 114.7 1122.9 117 1117 C118.7 1112.5 120.7 1108.3 123.5 1106 C125.9 1104 128.9 1103.5 132.3 1102.9 C136.6 1102.1 141 1102.6 147.6 1102.6 C159.8 1102.6 186.8 1102.7 199.5 1103.3 C206.9 1103.6 210.8 1104 217 1104.6 C224.2 1105.3 233.6 1106.8 240 1107.7 C244.6 1108.3 247.3 1108.6 251.9 1109.4 C258.1 1110.5 266.6 1111.8 273.8 1113.8 C281.2 1115.8 288.5 1118.6 295.7 1121.5 C303.1 1124.4 310.2 1128.5 317.6 1131.3 C324.8 1134 332.2 1136.1 339.5 1137.9 C346.8 1139.7 354.4 1141.4 361.4 1142.3 C367.8 1143.1 374.5 1143.4 380 1143.4 C384.4 1143.4 387.4 1143.5 391.9 1142.8 C398.1 1141.8 406.5 1138.9 413.8 1136.6 C421.1 1134.3 428.4 1131.5 435.7 1129 C443 1126.5 450.6 1123.4 457.6 1121.7 C463.7 1120.2 468.6 1119.3 475.1 1118.7 C483 1117.9 489.6 1118.2 501.4 1118 C525.8 1117.7 594.8 1118 613.5 1118" fill="none" stroke="#000" stroke-width="1.9" stroke-linejoin="round"/>
<path d="M100.4 1450.3 L315.4 1450.3 C316.9 1447.1 321.4 1438.1 324.2 1431.3 C327.3 1423.8 330 1415.2 332.9 1407.2 C335.8 1399.2 339 1390.4 341.7 1383.1 C344 1376.9 346.1 1372 348.2 1366 C350.5 1359.4 352.4 1352.3 355 1345 C357.9 1337 361.4 1330.1 365 1320.1 C370.3 1305.6 376.7 1284 382.6 1266.1 C388.4 1248.5 394 1230.2 400.1 1213.6 C405.7 1198.3 412.3 1179.4 417.6 1169.8 C420.5 1164.6 423.2 1162.2 425.8 1158.5 C428.3 1155.1 430.2 1151.4 433 1148.5 C435.7 1145.6 438.8 1143.7 442.3 1141 C446.7 1137.6 451.7 1132.5 457.6 1130 C464 1127.2 472.2 1126.5 479.5 1125.7 C486.8 1124.9 491.3 1125.4 501.4 1125.3 C524.3 1125.1 594.8 1125.3 613.5 1125.3" fill="none" stroke="#000" stroke-width="1.9" stroke-dasharray="9.5 10.5"/>
<g fill="#008000"><rect x="96.1" y="1452.1" width="7.6" height="8.3"/><rect x="101.1" y="1425.9" width="7.6" height="8.3"/><rect x="106.3" y="1394.8" width="7.6" height="8.3"/><rect x="111.4" y="1374.2" width="7.6" height="8.3"/><rect x="116.6" y="1341.5" width="7.6" height="8.3"/><rect x="121.8" y="1365.8" width="7.6" height="8.3"/><rect x="126.8" y="1376" width="7.6" height="8.3"/><rect x="132.3" y="1354.2" width="7.6" height="8.3"/><rect x="137.5" y="1367.5" width="7.6" height="8.3"/><rect x="142.2" y="1354.6" width="7.6" height="8.3"/><rect x="147.6" y="1372.9" width="7.6" height="8.3"/><rect x="152.8" y="1363.2" width="7.6" height="8.3"/><rect x="157.9" y="1347" width="7.6" height="8.3"/><rect x="162.9" y="1366.1" width="7.6" height="8.3"/><rect x="167.8" y="1376" width="7.6" height="8.3"/><rect x="173.3" y="1359" width="7.6" height="8.3"/><rect x="178.2" y="1377.4" width="7.6" height="8.3"/><rect x="183.4" y="1372.9" width="7.6" height="8.3"/><rect x="188.2" y="1346.3" width="7.6" height="8.3"/><rect x="193.6" y="1345.4" width="7.6" height="8.3"/><rect x="199" y="1364.8" width="7.6" height="8.3"/><rect x="203.5" y="1342.6" width="7.6" height="8.3"/><rect x="209" y="1338.2" width="7.6" height="8.3"/><rect x="214.4" y="1347.6" width="7.6" height="8.3"/><rect x="219.3" y="1328.8" width="7.6" height="8.3"/><rect x="224.9" y="1346.3" width="7.6" height="8.3"/><rect x="229.7" y="1340.1" width="7.6" height="8.3"/><rect x="234.9" y="1287.2" width="7.6" height="8.3"/><rect x="239.9" y="1323.3" width="7.6" height="8.3"/><rect x="245" y="1299.6" width="7.6" height="8.3"/><rect x="249.9" y="1308.4" width="7.6" height="8.3"/><rect x="255.1" y="1308.4" width="7.6" height="8.3"/><rect x="260.7" y="1284.2" width="7.6" height="8.3"/><rect x="266.2" y="1272.6" width="7.6" height="8.3"/><rect x="270.9" y="1274.9" width="7.6" height="8.3"/><rect x="275.5" y="1270.8" width="7.6" height="8.3"/><rect x="281.1" y="1253.9" width="7.6" height="8.3"/><rect x="286.1" y="1219.5" width="7.6" height="8.3"/><rect x="291.2" y="1204.2" width="7.6" height="8.3"/><rect x="296.4" y="1195" width="7.6" height="8.3"/><rect x="301.7" y="1194.4" width="7.6" height="8.3"/><rect x="306.8" y="1161.6" width="7.6" height="8.3"/><rect x="312.1" y="1146.5" width="7.6" height="8.3"/><rect x="316.8" y="1146.5" width="7.6" height="8.3"/><rect x="322.1" y="1124.8" width="7.6" height="8.3"/><rect x="327.1" y="1134.6" width="7.6" height="8.3"/><rect x="332.5" y="1118" width="7.6" height="8.3"/><rect x="337.3" y="1102.1" width="7.6" height="8.3"/><rect x="342.5" y="1093.9" width="7.6" height="8.3"/><rect x="347.9" y="1116.8" width="7.6" height="8.3"/><rect x="352.6" y="1083.2" width="7.6" height="8.3"/><rect x="357.9" y="1072.2" width="7.6" height="8.3"/><rect x="363" y="1067.1" width="7.6" height="8.3"/><rect x="368.3" y="1091.3" width="7.6" height="8.3"/><rect x="373.7" y="1092.3" width="7.6" height="8.3"/><rect x="378.5" y="1078.4" width="7.6" height="8.3"/><rect x="383.8" y="1096.2" width="7.6" height="8.3"/><rect x="388.4" y="1089.9" width="7.6" height="8.3"/><rect x="393.4" y="1112.2" width="7.6" height="8.3"/><rect x="399" y="1128.1" width="7.6" height="8.3"/><rect x="404.5" y="1114.9" width="7.6" height="8.3"/><rect x="409.5" y="1147.8" width="7.6" height="8.3"/><rect x="414.5" y="1143.5" width="7.6" height="8.3"/><rect x="420.8" y="1173.5" width="7.6" height="8.3"/><rect x="426.1" y="1177.8" width="7.6" height="8.3"/><rect x="431.3" y="1181.3" width="7.6" height="8.3"/><rect x="434.8" y="1174.8" width="7.6" height="8.3"/><rect x="440.1" y="1218.5" width="7.6" height="8.3"/><rect x="445.4" y="1202.8" width="7.6" height="8.3"/><rect x="449.3" y="1240.5" width="7.6" height="8.3"/><rect x="455.1" y="1241" width="7.6" height="8.3"/><rect x="460.4" y="1257.3" width="7.6" height="8.3"/><rect x="466.4" y="1259.4" width="7.6" height="8.3"/><rect x="470.9" y="1243.6" width="7.6" height="8.3"/><rect x="476.1" y="1250.2" width="7.6" height="8.3"/><rect x="481.4" y="1240.5" width="7.6" height="8.3"/><rect x="486.1" y="1254.6" width="7.6" height="8.3"/><rect x="491.4" y="1242.3" width="7.6" height="8.3"/><rect x="496.6" y="1264.1" width="7.6" height="8.3"/><rect x="501.9" y="1265.1" width="7.6" height="8.3"/><rect x="506.6" y="1254.6" width="7.6" height="8.3"/><rect x="512.4" y="1251" width="7.6" height="8.3"/><rect x="517.7" y="1263.3" width="7.6" height="8.3"/><rect x="522.9" y="1260.8" width="7.6" height="8.3"/><rect x="528.2" y="1259.4" width="7.6" height="8.3"/><rect x="532.9" y="1256.8" width="7.6" height="8.3"/><rect x="537.4" y="1263.3" width="7.6" height="8.3"/><rect x="542.6" y="1271.2" width="7.6" height="8.3"/><rect x="547.9" y="1274.6" width="7.6" height="8.3"/><rect x="553.1" y="1272.5" width="7.6" height="8.3"/><rect x="557.6" y="1259.9" width="7.6" height="8.3"/><rect x="563.6" y="1261.5" width="7.6" height="8.3"/><rect x="568.4" y="1271.2" width="7.6" height="8.3"/><rect x="573.4" y="1244.1" width="7.6" height="8.3"/><rect x="578.6" y="1267.3" width="7.6" height="8.3"/><rect x="583.9" y="1265.9" width="7.6" height="8.3"/><rect x="589.1" y="1267.3" width="7.6" height="8.3"/><rect x="593.8" y="1254.6" width="7.6" height="8.3"/><rect x="599.1" y="1260.8" width="7.6" height="8.3"/><rect x="604.4" y="1269.4" width="7.6" height="8.3"/></g>
<path d="M100.4 1474 C100.5 1472 100.9 1466 101.2 1462 C101.5 1458 101.6 1454.7 102 1449.8 C102.7 1442.3 104.2 1430.4 105.3 1421.3 C106.4 1412.9 107.4 1403.5 108.6 1397.2 C109.4 1393.1 110 1390.1 111 1387 C111.9 1384.3 113 1382 114.1 1379.7 C115 1377.7 115.8 1375.7 117 1374 C118.1 1372.4 119.3 1371.1 120.7 1369.9 C122.2 1368.6 124 1367.3 126 1366.5 C128.3 1365.6 130.5 1365.2 133.8 1364.8 C139.2 1364.2 147.1 1364.5 155.7 1364.4 C168 1364.3 190.2 1368.5 200.7 1364.3 C207.9 1361.5 210.8 1354.6 216 1350 C221.1 1345.5 226.7 1341.4 231.4 1336.9 C235.7 1332.8 239.2 1329 243.1 1324.4 C247.5 1319.2 252.1 1313.6 256.3 1307.3 C261 1300.2 265.6 1291.4 269.4 1283.7 C272.9 1276.6 275.4 1269.7 278.6 1262.6 C281.9 1255.2 285.6 1247.6 288.8 1240.1 C291.9 1232.7 294.6 1225.2 297.5 1217.7 C300.4 1210.1 303.6 1203.5 306.3 1194.9 C309.6 1184.2 311.2 1168.5 315 1158.1 C318 1149.9 321.7 1144 325.5 1137.1 C329.3 1130 333.6 1122.7 337.8 1116.1 C341.8 1109.9 345.8 1103.1 350.1 1098.5 C353.5 1094.8 356.9 1091.9 360.6 1089.8 C363.9 1087.9 367.9 1086.6 371.1 1086.3 C373.6 1086.1 375.6 1086.3 378.1 1087.2 C381.4 1088.4 385.6 1091 388.6 1094.2 C392.2 1098 394.5 1104.4 397.4 1109.1 C400 1113.4 402.7 1116.7 405 1121.3 C407.7 1126.8 409.6 1133.9 412.3 1140 C415 1146 418.1 1151.1 421.1 1157.5 C424.6 1164.9 428.2 1173.5 431.6 1182 C435.2 1191 438.9 1201 442.1 1210.1 C445.1 1218.6 446.8 1228 450.5 1234.7 C453.4 1240.1 457.2 1244.4 461 1247.8 C464.3 1250.7 467.2 1252.7 471.5 1254.4 C477.1 1256.7 485.1 1257.7 492.5 1258.8 C500.7 1260 507.3 1260.4 518.8 1260.9 C540.6 1261.8 597.7 1261 613.5 1261" fill="none" stroke="#000" stroke-width="1.9" stroke-dasharray="10.5 6 2 6"/>
<g stroke="#000" stroke-width="1.8" fill="none" stroke-linecap="square">
<path d="M74.4 1068V1474H623.6V1068"/>
<path d="M74.6 1474V1469M100.3 1474V1465M126 1474V1469M151.6 1474V1465M177.3 1474V1469M203 1474V1465M228.6 1474V1469M254.3 1474V1465M280 1474V1469M305.6 1474V1465M331.3 1474V1469M356.9 1474V1465M382.6 1474V1469M408.3 1474V1465M433.9 1474V1469M459.6 1474V1465M485.3 1474V1469M510.9 1474V1465M536.6 1474V1469M562.3 1474V1465M587.9 1474V1469M613.6 1474V1465M74.4 1473.2H79.4M74.4 1450H83.4M74.4 1426.8H79.4M74.4 1403.5H83.4M74.4 1380.2H79.4M74.4 1357H83.4M74.4 1333.8H79.4M74.4 1310.5H83.4M74.4 1287.2H79.4M74.4 1264H83.4M74.4 1240.8H79.4M74.4 1217.5H83.4M74.4 1194.2H79.4M74.4 1171H83.4M74.4 1147.8H79.4M74.4 1124.5H83.4M74.4 1101.2H79.4M74.4 1078H83.4M623.6 1474.5H614.6M623.6 1434.7H618.6M623.6 1394.8H614.6M623.6 1355H618.6M623.6 1315.1H614.6M623.6 1275.2H618.6M623.6 1235.4H614.6M623.6 1195.5H618.6M623.6 1155.7H614.6M623.6 1115.8H618.6M623.6 1076H614.6" stroke-linecap="butt"/>
</g>
<g font-size="22.5"><text transform="translate(65.2 1457.6) scale(1 1.12)" text-anchor="end">0</text><text transform="translate(65.2 1411.1) scale(1 1.12)" text-anchor="end">10</text><text transform="translate(65.2 1364.6) scale(1 1.12)" text-anchor="end">20</text><text transform="translate(65.2 1318.1) scale(1 1.12)" text-anchor="end">30</text><text transform="translate(65.2 1271.6) scale(1 1.12)" text-anchor="end">40</text><text transform="translate(65.2 1225.1) scale(1 1.12)" text-anchor="end">50</text><text transform="translate(65.2 1178.6) scale(1 1.12)" text-anchor="end">60</text><text transform="translate(65.2 1132.1) scale(1 1.12)" text-anchor="end">70</text><text transform="translate(65.2 1085.6) scale(1 1.12)" text-anchor="end">80</text><text transform="translate(632.1 1482.1) scale(1 1.12)">0</text><text transform="translate(632.1 1402.4) scale(1 1.12)">2</text><text transform="translate(632.1 1322.7) scale(1 1.12)">4</text><text transform="translate(632.1 1243) scale(1 1.12)">6</text><text transform="translate(632.1 1163.3) scale(1 1.12)">8</text><text transform="translate(632.1 1083.6) scale(1 1.12)">10</text><text transform="translate(100.3 1502.3) scale(1 1.12)" text-anchor="middle">0</text><text transform="translate(151.6 1502.3) scale(1 1.12)" text-anchor="middle">1</text><text transform="translate(203 1502.3) scale(1 1.12)" text-anchor="middle">2</text><text transform="translate(254.3 1502.3) scale(1 1.12)" text-anchor="middle">3</text><text transform="translate(305.6 1502.3) scale(1 1.12)" text-anchor="middle">4</text><text transform="translate(356.9 1502.3) scale(1 1.12)" text-anchor="middle">5</text><text transform="translate(408.3 1502.3) scale(1 1.12)" text-anchor="middle">6</text><text transform="translate(459.6 1502.3) scale(1 1.12)" text-anchor="middle">7</text><text transform="translate(510.9 1502.3) scale(1 1.12)" text-anchor="middle">8</text><text transform="translate(562.3 1502.3) scale(1 1.12)" text-anchor="middle">9</text><text transform="translate(613.6 1502.3) scale(1 1.12)" text-anchor="middle">10</text></g>
<text transform="translate(335.6 1526.3) scale(1 1.08)" font-size="24"><tspan font-style="italic">t</tspan> (s)</text>
<text transform="translate(27.4 1277.3) rotate(-90)" font-size="24.4" text-anchor="middle"><tspan font-style="italic">Rotary speed</tspan> (rad/s)</text>
<text transform="translate(675.3 1269.7) rotate(-90)" font-size="24" text-anchor="middle"><tspan font-style="italic">M</tspan> (N·m)</text>
<text x="189.1" y="1570.4" font-size="39.5" font-weight="bold">c</text>
<text x="221.4" y="1569.6" font-size="25.6">Positive parabolic strategy.</text>
<rect x="431" y="1290.5" width="128.7" height="163.5" fill="#fff" stroke="none"/>
<path d="M431 1290.5V1454" stroke="#e8e8e8" stroke-width="1.2"/>
<path d="M559.7 1290.5V1454" stroke="#c8c8c8" stroke-width="1.2"/>
<path d="M431 1290.5H559.7" stroke="#707070" stroke-width="1.3"/>
<path d="M431 1454H559.7" stroke="#383838" stroke-width="1.8"/>
<g fill="#ff0000"><ellipse cx="464" cy="1304.5" rx="4.3" ry="4.5"/></g>
<g fill="#0000ff"><path d="M464 1326.6L469 1335.2L459 1335.2Z"/></g>
<path d="M439.2 1358.3H488.2" stroke="#000" stroke-width="1.9"/>
<path d="M439.2 1385.1H488.2" stroke="#000" stroke-width="1.9" stroke-dasharray="9.5 10.5"/>
<g fill="#008000"><rect x="458.3" y="1407.5" width="7.4" height="8"/></g>
<path d="M439.2 1438.8H488.2" stroke="#000" stroke-width="1.9" stroke-dasharray="10.5 6 2 6"/>
<text x="494.3" y="1311.7"><tspan font-size="21" font-style="italic" fill="#1a1a1a">ω</tspan><tspan font-size="12.2" fill="#333">1</tspan><tspan font-size="12.5" fill="#3a3a3a">_Exp</tspan></text>
<text x="494.3" y="1338.1"><tspan font-size="21" font-style="italic" fill="#1a1a1a">ω</tspan><tspan font-size="12.2" fill="#333">2</tspan><tspan font-size="12.5" fill="#3a3a3a" dx="2.5"> Exp</tspan></text>
<text x="494.3" y="1365.5"><tspan font-size="21" font-style="italic" fill="#1a1a1a">ω</tspan><tspan font-size="12.2" fill="#333">1</tspan><tspan font-size="12.5" fill="#3a3a3a">_Num</tspan></text>
<text x="494.3" y="1392.3"><tspan font-size="21" font-style="italic" fill="#1a1a1a">ω</tspan><tspan font-size="12.2" fill="#333">2</tspan><tspan font-size="12.5" fill="#3a3a3a" dx="2.5"> Num</tspan></text>
<text x="494.3" y="1418.7"><tspan font-size="20" font-style="italic" fill="#1a1a1a">M</tspan><tspan font-size="12.2" fill="#333">2</tspan><tspan font-size="12.5" fill="#3a3a3a" dx="2.5"> Exp</tspan></text>
<text x="494.3" y="1446"><tspan font-size="20" font-style="italic" fill="#1a1a1a">M</tspan><tspan font-size="12.2" fill="#333">2</tspan><tspan font-size="12.5" fill="#3a3a3a">_Num</tspan></text>
</svg>
</body></html>
